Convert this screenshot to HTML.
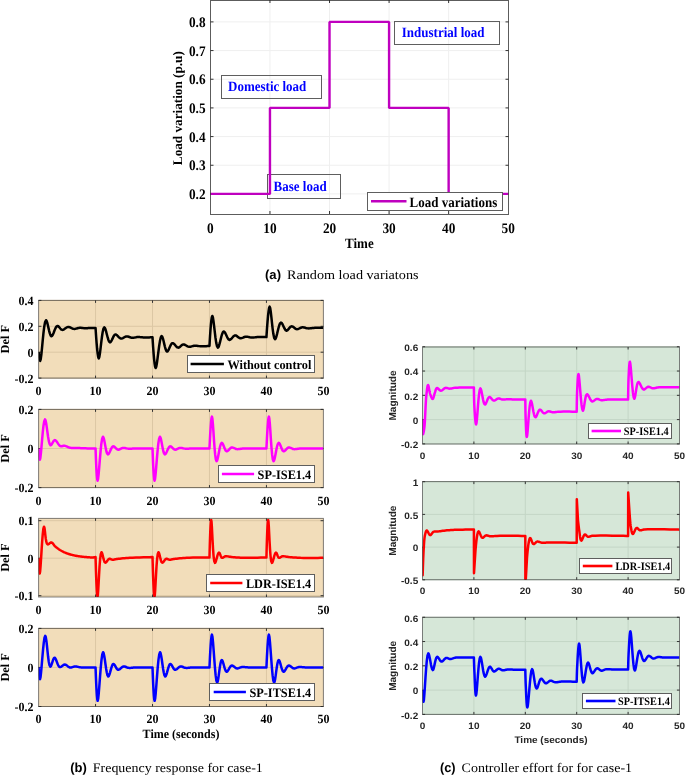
<!DOCTYPE html>
<html><head><meta charset="utf-8"><style>
html,body{margin:0;padding:0;background:#fff;width:685px;height:775px;overflow:hidden}
svg{display:block;will-change:transform;text-rendering:geometricPrecision}
</style></head><body>
<svg width="685" height="775" viewBox="0 0 685 775">
<rect width="685" height="775" fill="#fff"/>
<g>
<line x1="269.96" y1="0" x2="269.96" y2="214" stroke="#efefef" stroke-width="1"/>
<line x1="329.52" y1="0" x2="329.52" y2="214" stroke="#efefef" stroke-width="1"/>
<line x1="389.08" y1="0" x2="389.08" y2="214" stroke="#efefef" stroke-width="1"/>
<line x1="448.64" y1="0" x2="448.64" y2="214" stroke="#efefef" stroke-width="1"/>
<line x1="211" y1="193.92" x2="508" y2="193.92" stroke="#efefef" stroke-width="1"/>
<line x1="211" y1="165.25" x2="508" y2="165.25" stroke="#efefef" stroke-width="1"/>
<line x1="211" y1="136.58" x2="508" y2="136.58" stroke="#efefef" stroke-width="1"/>
<line x1="211" y1="107.91" x2="508" y2="107.91" stroke="#efefef" stroke-width="1"/>
<line x1="211" y1="79.24" x2="508" y2="79.24" stroke="#efefef" stroke-width="1"/>
<line x1="211" y1="50.57" x2="508" y2="50.57" stroke="#efefef" stroke-width="1"/>
<line x1="211" y1="21.9" x2="508" y2="21.9" stroke="#efefef" stroke-width="1"/>
<line x1="269.96" y1="214" x2="269.96" y2="211" stroke="#333" stroke-width="1"/>
<line x1="269.96" y1="0" x2="269.96" y2="3" stroke="#333" stroke-width="1"/>
<line x1="329.52" y1="214" x2="329.52" y2="211" stroke="#333" stroke-width="1"/>
<line x1="329.52" y1="0" x2="329.52" y2="3" stroke="#333" stroke-width="1"/>
<line x1="389.08" y1="214" x2="389.08" y2="211" stroke="#333" stroke-width="1"/>
<line x1="389.08" y1="0" x2="389.08" y2="3" stroke="#333" stroke-width="1"/>
<line x1="448.64" y1="214" x2="448.64" y2="211" stroke="#333" stroke-width="1"/>
<line x1="448.64" y1="0" x2="448.64" y2="3" stroke="#333" stroke-width="1"/>
<line x1="210.5" y1="193.92" x2="213.5" y2="193.92" stroke="#333" stroke-width="1"/>
<line x1="508.5" y1="193.92" x2="505.5" y2="193.92" stroke="#333" stroke-width="1"/>
<line x1="210.5" y1="165.25" x2="213.5" y2="165.25" stroke="#333" stroke-width="1"/>
<line x1="508.5" y1="165.25" x2="505.5" y2="165.25" stroke="#333" stroke-width="1"/>
<line x1="210.5" y1="136.58" x2="213.5" y2="136.58" stroke="#333" stroke-width="1"/>
<line x1="508.5" y1="136.58" x2="505.5" y2="136.58" stroke="#333" stroke-width="1"/>
<line x1="210.5" y1="107.91" x2="213.5" y2="107.91" stroke="#333" stroke-width="1"/>
<line x1="508.5" y1="107.91" x2="505.5" y2="107.91" stroke="#333" stroke-width="1"/>
<line x1="210.5" y1="79.24" x2="213.5" y2="79.24" stroke="#333" stroke-width="1"/>
<line x1="508.5" y1="79.24" x2="505.5" y2="79.24" stroke="#333" stroke-width="1"/>
<line x1="210.5" y1="50.57" x2="213.5" y2="50.57" stroke="#333" stroke-width="1"/>
<line x1="508.5" y1="50.57" x2="505.5" y2="50.57" stroke="#333" stroke-width="1"/>
<line x1="210.5" y1="21.9" x2="213.5" y2="21.9" stroke="#333" stroke-width="1"/>
<line x1="508.5" y1="21.9" x2="505.5" y2="21.9" stroke="#333" stroke-width="1"/>
<rect x="221.5" y="75.5" width="100" height="23" fill="none" stroke="#5e5e5e" stroke-width="1"/>
<rect x="394.5" y="21.5" width="105" height="23" fill="none" stroke="#5e5e5e" stroke-width="1"/>
<rect x="267.5" y="174.5" width="73" height="24" fill="none" stroke="#5e5e5e" stroke-width="1"/>
<path d="M210.4 193.92 L269.96 193.92 L269.96 107.91 L329.52 107.91 L329.52 21.9 L389.08 21.9 L389.08 107.91 L448.64 107.91 L448.64 193.92 L508.2 193.92" fill="none" stroke="#bf00bf" stroke-width="2.4" stroke-linejoin="bevel"/>
<rect x="210.5" y="0.5" width="298" height="214" fill="none" stroke="#262626" stroke-opacity="0.75" stroke-width="1"/>
<rect x="367.5" y="192.5" width="135" height="18" fill="#fff" stroke="#5e5e5e" stroke-width="1"/>
<line x1="371" y1="201.3" x2="406.5" y2="201.3" stroke="#bf00bf" stroke-width="2.6"/>
<text transform="translate(409.5,207.2) scale(1,1.1)" font-family="Liberation Serif" font-weight="bold" font-size="13" text-anchor="start" fill="#000" >Load variations</text>
<text transform="translate(228,91.1) scale(1,1.1)" font-family="Liberation Serif" font-weight="bold" font-size="13" text-anchor="start" fill="#0000ff" >Domestic load</text>
<text transform="translate(401.8,37.4) scale(1,1.1)" font-family="Liberation Serif" font-weight="bold" font-size="13" text-anchor="start" fill="#0000ff" >Industrial load</text>
<text transform="translate(273.6,191) scale(1,1.1)" font-family="Liberation Serif" font-weight="bold" font-size="13" text-anchor="start" fill="#0000ff" >Base load</text>
<text transform="translate(205.6,199.12) scale(1,1.1)" font-family="Liberation Serif" font-weight="bold" font-size="13.3" text-anchor="end" fill="#000" >0.2</text>
<text transform="translate(205.6,170.45) scale(1,1.1)" font-family="Liberation Serif" font-weight="bold" font-size="13.3" text-anchor="end" fill="#000" >0.3</text>
<text transform="translate(205.6,141.78) scale(1,1.1)" font-family="Liberation Serif" font-weight="bold" font-size="13.3" text-anchor="end" fill="#000" >0.4</text>
<text transform="translate(205.6,113.11) scale(1,1.1)" font-family="Liberation Serif" font-weight="bold" font-size="13.3" text-anchor="end" fill="#000" >0.5</text>
<text transform="translate(205.6,84.44) scale(1,1.1)" font-family="Liberation Serif" font-weight="bold" font-size="13.3" text-anchor="end" fill="#000" >0.6</text>
<text transform="translate(205.6,55.77) scale(1,1.1)" font-family="Liberation Serif" font-weight="bold" font-size="13.3" text-anchor="end" fill="#000" >0.7</text>
<text transform="translate(205.6,27.1) scale(1,1.1)" font-family="Liberation Serif" font-weight="bold" font-size="13.3" text-anchor="end" fill="#000" >0.8</text>
<text transform="translate(210.4,232.8) scale(1,1.1)" font-family="Liberation Serif" font-weight="bold" font-size="13.3" text-anchor="middle" fill="#000" >0</text>
<text transform="translate(269.96,232.8) scale(1,1.1)" font-family="Liberation Serif" font-weight="bold" font-size="13.3" text-anchor="middle" fill="#000" >10</text>
<text transform="translate(329.52,232.8) scale(1,1.1)" font-family="Liberation Serif" font-weight="bold" font-size="13.3" text-anchor="middle" fill="#000" >20</text>
<text transform="translate(389.08,232.8) scale(1,1.1)" font-family="Liberation Serif" font-weight="bold" font-size="13.3" text-anchor="middle" fill="#000" >30</text>
<text transform="translate(448.64,232.8) scale(1,1.1)" font-family="Liberation Serif" font-weight="bold" font-size="13.3" text-anchor="middle" fill="#000" >40</text>
<text transform="translate(508.2,232.8) scale(1,1.1)" font-family="Liberation Serif" font-weight="bold" font-size="13.3" text-anchor="middle" fill="#000" >50</text>
<text transform="translate(359.4,247.9) scale(1,1.1)" font-family="Liberation Serif" font-weight="bold" font-size="13" text-anchor="middle" fill="#000" >Time</text>
<text transform="translate(181.8,108.2) rotate(-90)" font-family="Liberation Serif" font-weight="bold" font-size="13.2" text-anchor="middle" fill="#000">Load variation (p.u)</text>
</g>
<text x="265" y="279.2" font-family="Liberation Sans" font-weight="bold" font-size="13" text-anchor="start" fill="#000" textLength="16" lengthAdjust="spacingAndGlyphs">(a)</text>
<text x="287" y="279.2" font-family="Liberation Serif" font-weight="normal" font-size="13" text-anchor="start" fill="#000" textLength="131.5" lengthAdjust="spacingAndGlyphs">Random load variatons</text>
<defs>
<clipPath id="cl0"><rect x="38.6" y="300.4" width="284.79999999999995" height="77.70000000000005"/></clipPath>
<clipPath id="cl1"><rect x="38.6" y="409.4" width="284.79999999999995" height="78.20000000000005"/></clipPath>
<clipPath id="cl2"><rect x="38.6" y="518.4" width="284.79999999999995" height="78.60000000000002"/></clipPath>
<clipPath id="cl3"><rect x="38.6" y="628.4" width="284.79999999999995" height="78.10000000000002"/></clipPath>
</defs>
<rect x="38.6" y="300.4" width="284.8" height="77.7" fill="#f2ddba"/>
<line x1="95.56" y1="300.4" x2="95.56" y2="378.1" stroke="#dcc7a4" stroke-width="1"/>
<line x1="152.52" y1="300.4" x2="152.52" y2="378.1" stroke="#dcc7a4" stroke-width="1"/>
<line x1="209.48" y1="300.4" x2="209.48" y2="378.1" stroke="#dcc7a4" stroke-width="1"/>
<line x1="266.44" y1="300.4" x2="266.44" y2="378.1" stroke="#dcc7a4" stroke-width="1"/>
<line x1="38.6" y1="300.4" x2="323.4" y2="300.4" stroke="#dcc7a4" stroke-width="1"/>
<line x1="38.6" y1="326.3" x2="323.4" y2="326.3" stroke="#dcc7a4" stroke-width="1"/>
<line x1="38.6" y1="352.2" x2="323.4" y2="352.2" stroke="#dcc7a4" stroke-width="1"/>
<line x1="38.6" y1="378.1" x2="323.4" y2="378.1" stroke="#dcc7a4" stroke-width="1"/>
<line x1="95.56" y1="378.1" x2="95.56" y2="375.6" stroke="#333" stroke-width="1"/>
<line x1="95.56" y1="300.4" x2="95.56" y2="302.9" stroke="#333" stroke-width="1"/>
<line x1="152.52" y1="378.1" x2="152.52" y2="375.6" stroke="#333" stroke-width="1"/>
<line x1="152.52" y1="300.4" x2="152.52" y2="302.9" stroke="#333" stroke-width="1"/>
<line x1="209.48" y1="378.1" x2="209.48" y2="375.6" stroke="#333" stroke-width="1"/>
<line x1="209.48" y1="300.4" x2="209.48" y2="302.9" stroke="#333" stroke-width="1"/>
<line x1="266.44" y1="378.1" x2="266.44" y2="375.6" stroke="#333" stroke-width="1"/>
<line x1="266.44" y1="300.4" x2="266.44" y2="302.9" stroke="#333" stroke-width="1"/>
<line x1="38.6" y1="300.4" x2="41.4" y2="300.4" stroke="#333" stroke-width="1"/>
<line x1="323.4" y1="300.4" x2="320.59999999999997" y2="300.4" stroke="#333" stroke-width="1"/>
<line x1="38.6" y1="326.3" x2="41.4" y2="326.3" stroke="#333" stroke-width="1"/>
<line x1="323.4" y1="326.3" x2="320.59999999999997" y2="326.3" stroke="#333" stroke-width="1"/>
<line x1="38.6" y1="352.2" x2="41.4" y2="352.2" stroke="#333" stroke-width="1"/>
<line x1="323.4" y1="352.2" x2="320.59999999999997" y2="352.2" stroke="#333" stroke-width="1"/>
<line x1="38.6" y1="378.1" x2="41.4" y2="378.1" stroke="#333" stroke-width="1"/>
<line x1="323.4" y1="378.1" x2="320.59999999999997" y2="378.1" stroke="#333" stroke-width="1"/>
<path clip-path="url(#cl0)" d="M38.6 352.2 L38.64 352.57 L38.76 353.56 L38.93 354.95 L39.15 356.54 L39.41 358.14 L39.67 359.53 L39.94 360.51 L40.19 360.88 L40.74 359.13 L41.35 354.54 L42 348.06 L42.7 340.62 L43.45 333.17 L44.25 326.66 L45.1 322.02 L46 320.21 L46.61 320.85 L47.22 322.63 L47.86 325.18 L48.52 328.11 L49.2 331.06 L49.91 333.66 L50.65 335.52 L51.42 336.27 L52.08 335.89 L52.77 334.78 L53.48 333.17 L54.21 331.31 L54.95 329.41 L55.71 327.72 L56.49 326.48 L57.28 325.91 L57.87 325.99 L58.46 326.39 L59.06 327 L59.67 327.74 L60.3 328.49 L60.93 329.18 L61.58 329.69 L62.24 329.93 L62.93 329.86 L63.64 329.56 L64.37 329.11 L65.11 328.56 L65.86 328 L66.61 327.5 L67.36 327.13 L68.11 326.95 L68.82 326.98 L69.55 327.17 L70.27 327.46 L71 327.81 L71.73 328.18 L72.46 328.51 L73.19 328.76 L73.92 328.89 L74.62 328.89 L75.33 328.8 L76.05 328.65 L76.76 328.46 L77.47 328.26 L78.18 328.08 L78.9 327.93 L79.61 327.85 L80.33 327.84 L81.05 327.87 L81.77 327.93 L82.5 328 L83.22 328.09 L83.93 328.16 L84.63 328.22 L85.31 328.24 L85.9 328.24 L86.47 328.21 L87.03 328.18 L87.59 328.13 L88.14 328.09 L88.7 328.04 L89.27 328.01 L89.86 327.98 L90.62 327.97 L91.51 327.96 L92.45 327.96 L93.38 327.96 L94.23 327.97 L94.92 327.98 L95.39 327.98 L95.56 327.98 L95.64 329.29 L95.86 332.73 L96.19 337.6 L96.62 343.18 L97.11 348.76 L97.65 353.64 L98.2 357.09 L98.75 358.42 L99.31 357.1 L99.9 353.61 L100.53 348.66 L101.19 342.98 L101.89 337.28 L102.64 332.29 L103.43 328.74 L104.27 327.34 L104.91 327.93 L105.56 329.58 L106.24 331.96 L106.94 334.7 L107.67 337.45 L108.41 339.88 L109.18 341.63 L109.97 342.36 L110.59 342.09 L111.22 341.25 L111.86 340.03 L112.51 338.61 L113.18 337.16 L113.87 335.87 L114.59 334.91 L115.33 334.46 L115.98 334.54 L116.66 334.95 L117.35 335.58 L118.06 336.33 L118.78 337.11 L119.51 337.81 L120.24 338.34 L120.96 338.6 L121.63 338.58 L122.3 338.37 L122.98 338.04 L123.66 337.64 L124.35 337.22 L125.04 336.83 L125.73 336.54 L126.43 336.4 L127.15 336.42 L127.88 336.55 L128.62 336.77 L129.36 337.03 L130.1 337.3 L130.84 337.54 L131.57 337.73 L132.3 337.83 L132.98 337.82 L133.65 337.75 L134.32 337.64 L134.99 337.5 L135.66 337.35 L136.33 337.21 L137.02 337.11 L137.71 337.05 L138.46 337.04 L139.22 337.07 L139.98 337.12 L140.75 337.19 L141.53 337.27 L142.33 337.34 L143.14 337.4 L143.98 337.44 L145.1 337.45 L146.42 337.44 L147.83 337.42 L149.23 337.4 L150.51 337.36 L151.55 337.34 L152.26 337.32 L152.52 337.31 L152.59 338.62 L152.8 342.1 L153.12 347 L153.53 352.63 L154.01 358.26 L154.54 363.18 L155.09 366.66 L155.65 368 L156.25 366.65 L156.91 363.05 L157.61 357.95 L158.35 352.09 L159.13 346.23 L159.94 341.09 L160.78 337.44 L161.63 336.01 L162.25 336.63 L162.88 338.35 L163.52 340.81 L164.17 343.64 L164.85 346.49 L165.55 349 L166.28 350.81 L167.04 351.55 L167.66 351.26 L168.29 350.37 L168.94 349.06 L169.6 347.54 L170.28 346 L170.98 344.62 L171.71 343.6 L172.46 343.13 L173.12 343.24 L173.81 343.71 L174.52 344.42 L175.25 345.26 L175.98 346.11 L176.71 346.88 L177.44 347.43 L178.15 347.67 L178.79 347.56 L179.43 347.22 L180.06 346.73 L180.69 346.14 L181.32 345.55 L181.96 345.02 L182.61 344.62 L183.28 344.43 L183.96 344.48 L184.66 344.7 L185.37 345.04 L186.08 345.46 L186.8 345.89 L187.53 346.29 L188.25 346.6 L188.97 346.76 L189.68 346.78 L190.38 346.7 L191.08 346.54 L191.79 346.35 L192.5 346.15 L193.22 345.95 L193.94 345.8 L194.67 345.72 L195.43 345.72 L196.19 345.76 L196.95 345.83 L197.72 345.92 L198.5 346.03 L199.29 346.12 L200.1 346.2 L200.94 346.24 L202.06 346.25 L203.38 346.23 L204.79 346.19 L206.19 346.14 L207.47 346.08 L208.51 346.03 L209.22 346 L209.48 345.98 L209.55 344.69 L209.73 341.3 L210.02 336.49 L210.39 330.98 L210.83 325.47 L211.31 320.66 L211.82 317.25 L212.33 315.94 L212.87 317.28 L213.46 320.85 L214.08 325.9 L214.75 331.71 L215.45 337.52 L216.21 342.62 L217.01 346.24 L217.85 347.67 L218.5 347.03 L219.17 345.24 L219.86 342.68 L220.58 339.73 L221.32 336.76 L222.09 334.15 L222.89 332.26 L223.72 331.48 L224.37 331.77 L225.05 332.66 L225.73 333.96 L226.43 335.49 L227.15 337.04 L227.89 338.42 L228.64 339.44 L229.42 339.9 L230.09 339.79 L230.78 339.33 L231.49 338.62 L232.21 337.79 L232.94 336.94 L233.67 336.18 L234.39 335.62 L235.11 335.37 L235.75 335.44 L236.38 335.72 L237.01 336.15 L237.64 336.65 L238.28 337.18 L238.92 337.66 L239.57 338.02 L240.24 338.21 L240.92 338.21 L241.62 338.08 L242.33 337.85 L243.05 337.56 L243.77 337.25 L244.49 336.98 L245.22 336.77 L245.93 336.66 L246.64 336.67 L247.35 336.75 L248.05 336.88 L248.76 337.05 L249.47 337.22 L250.18 337.38 L250.9 337.5 L251.63 337.57 L252.39 337.57 L253.15 337.53 L253.91 337.46 L254.68 337.37 L255.46 337.27 L256.25 337.18 L257.06 337.1 L257.9 337.05 L259.02 337.02 L260.34 337 L261.75 337 L263.15 337.01 L264.43 337.02 L265.47 337.03 L266.18 337.04 L266.44 337.05 L266.52 335.74 L266.74 332.3 L267.08 327.43 L267.52 321.85 L268.01 316.26 L268.55 311.39 L269.1 307.94 L269.63 306.62 L270.18 308 L270.75 311.67 L271.35 316.87 L271.98 322.84 L272.65 328.82 L273.37 334.06 L274.15 337.79 L274.98 339.25 L275.63 338.59 L276.31 336.74 L277.01 334.11 L277.74 331.06 L278.49 327.99 L279.27 325.29 L280.08 323.35 L280.91 322.54 L281.54 322.82 L282.19 323.69 L282.86 324.96 L283.54 326.45 L284.23 327.95 L284.93 329.29 L285.65 330.27 L286.38 330.7 L286.99 330.58 L287.61 330.13 L288.24 329.45 L288.88 328.65 L289.53 327.83 L290.18 327.09 L290.84 326.55 L291.5 326.3 L292.12 326.37 L292.75 326.65 L293.38 327.08 L294.01 327.59 L294.65 328.12 L295.3 328.6 L295.96 328.97 L296.63 329.15 L297.32 329.13 L298.01 328.96 L298.72 328.69 L299.44 328.36 L300.16 328.01 L300.88 327.7 L301.6 327.46 L302.32 327.34 L303.03 327.34 L303.73 327.43 L304.43 327.58 L305.13 327.77 L305.84 327.97 L306.56 328.15 L307.28 328.29 L308.02 328.37 L308.84 328.39 L309.66 328.35 L310.5 328.28 L311.35 328.19 L312.21 328.09 L313.08 327.99 L313.96 327.91 L314.86 327.85 L315.99 327.82 L317.32 327.81 L318.74 327.81 L320.14 327.82 L321.4 327.83 L322.44 327.84 L323.14 327.85 L323.4 327.85" fill="none" stroke="#000" stroke-width="2.5" stroke-linejoin="round"/>
<rect x="38.6" y="300.4" width="284.8" height="77.7" fill="none" stroke="#262626" stroke-opacity="0.58" stroke-width="1"/>
<rect x="187.5" y="355.5" width="127" height="17" fill="#fff" stroke="#5e5e5e" stroke-width="1"/>
<line x1="190.6" y1="364" x2="223.9" y2="364" stroke="#000" stroke-width="2.6"/>
<text transform="translate(227.4,368.9) scale(1,1.05)" font-family="Liberation Serif" font-weight="bold" font-size="12.3" text-anchor="start" fill="#000" >Without control</text>
<text transform="translate(33.4,304.8) scale(1,1.05)" font-family="Liberation Serif" font-weight="bold" font-size="12" text-anchor="end" fill="#000" >0.4</text>
<text transform="translate(33.4,330.7) scale(1,1.05)" font-family="Liberation Serif" font-weight="bold" font-size="12" text-anchor="end" fill="#000" >0.2</text>
<text transform="translate(33.4,356.6) scale(1,1.05)" font-family="Liberation Serif" font-weight="bold" font-size="12" text-anchor="end" fill="#000" >0</text>
<text transform="translate(33.4,382.5) scale(1,1.05)" font-family="Liberation Serif" font-weight="bold" font-size="12" text-anchor="end" fill="#000" >-0.2</text>
<text transform="translate(38.6,395) scale(1,1.05)" font-family="Liberation Serif" font-weight="bold" font-size="12" text-anchor="middle" fill="#000" >0</text>
<text transform="translate(95.56,395) scale(1,1.05)" font-family="Liberation Serif" font-weight="bold" font-size="12" text-anchor="middle" fill="#000" >10</text>
<text transform="translate(152.52,395) scale(1,1.05)" font-family="Liberation Serif" font-weight="bold" font-size="12" text-anchor="middle" fill="#000" >20</text>
<text transform="translate(209.48,395) scale(1,1.05)" font-family="Liberation Serif" font-weight="bold" font-size="12" text-anchor="middle" fill="#000" >30</text>
<text transform="translate(266.44,395) scale(1,1.05)" font-family="Liberation Serif" font-weight="bold" font-size="12" text-anchor="middle" fill="#000" >40</text>
<text transform="translate(323.4,395) scale(1,1.05)" font-family="Liberation Serif" font-weight="bold" font-size="12" text-anchor="middle" fill="#000" >50</text>
<text transform="translate(9,339.25) rotate(-90)" font-family="Liberation Serif" font-weight="bold" font-size="12.3" text-anchor="middle" fill="#000">Del F</text>
<rect x="38.6" y="409.4" width="284.8" height="78.2" fill="#f2ddba"/>
<line x1="95.56" y1="409.4" x2="95.56" y2="487.6" stroke="#dcc7a4" stroke-width="1"/>
<line x1="152.52" y1="409.4" x2="152.52" y2="487.6" stroke="#dcc7a4" stroke-width="1"/>
<line x1="209.48" y1="409.4" x2="209.48" y2="487.6" stroke="#dcc7a4" stroke-width="1"/>
<line x1="266.44" y1="409.4" x2="266.44" y2="487.6" stroke="#dcc7a4" stroke-width="1"/>
<line x1="38.6" y1="409.4" x2="323.4" y2="409.4" stroke="#dcc7a4" stroke-width="1"/>
<line x1="38.6" y1="448.5" x2="323.4" y2="448.5" stroke="#dcc7a4" stroke-width="1"/>
<line x1="38.6" y1="487.6" x2="323.4" y2="487.6" stroke="#dcc7a4" stroke-width="1"/>
<line x1="95.56" y1="487.6" x2="95.56" y2="485.1" stroke="#333" stroke-width="1"/>
<line x1="95.56" y1="409.4" x2="95.56" y2="411.9" stroke="#333" stroke-width="1"/>
<line x1="152.52" y1="487.6" x2="152.52" y2="485.1" stroke="#333" stroke-width="1"/>
<line x1="152.52" y1="409.4" x2="152.52" y2="411.9" stroke="#333" stroke-width="1"/>
<line x1="209.48" y1="487.6" x2="209.48" y2="485.1" stroke="#333" stroke-width="1"/>
<line x1="209.48" y1="409.4" x2="209.48" y2="411.9" stroke="#333" stroke-width="1"/>
<line x1="266.44" y1="487.6" x2="266.44" y2="485.1" stroke="#333" stroke-width="1"/>
<line x1="266.44" y1="409.4" x2="266.44" y2="411.9" stroke="#333" stroke-width="1"/>
<line x1="38.6" y1="409.4" x2="41.4" y2="409.4" stroke="#333" stroke-width="1"/>
<line x1="323.4" y1="409.4" x2="320.59999999999997" y2="409.4" stroke="#333" stroke-width="1"/>
<line x1="38.6" y1="448.5" x2="41.4" y2="448.5" stroke="#333" stroke-width="1"/>
<line x1="323.4" y1="448.5" x2="320.59999999999997" y2="448.5" stroke="#333" stroke-width="1"/>
<line x1="38.6" y1="487.6" x2="41.4" y2="487.6" stroke="#333" stroke-width="1"/>
<line x1="323.4" y1="487.6" x2="320.59999999999997" y2="487.6" stroke="#333" stroke-width="1"/>
<path clip-path="url(#cl1)" d="M38.6 448.5 L38.63 448.98 L38.72 450.24 L38.86 452.03 L39.03 454.07 L39.24 456.12 L39.46 457.9 L39.68 459.16 L39.91 459.64 L40.37 457.92 L40.89 453.36 L41.48 446.93 L42.11 439.54 L42.79 432.15 L43.49 425.7 L44.23 421.13 L44.98 419.37 L45.58 420.43 L46.17 423.28 L46.78 427.34 L47.41 432.01 L48.08 436.71 L48.8 440.87 L49.61 443.88 L50.5 445.18 L50.99 445.05 L51.5 444.52 L52.02 443.72 L52.56 442.77 L53.12 441.8 L53.68 440.95 L54.25 440.33 L54.83 440.09 L55.49 440.31 L56.17 440.92 L56.86 441.8 L57.56 442.84 L58.27 443.91 L58.98 444.89 L59.7 445.68 L60.42 446.15 L60.92 446.28 L61.42 446.28 L61.93 446.21 L62.43 446.08 L62.94 445.94 L63.46 445.82 L63.98 445.75 L64.52 445.76 L65.16 445.89 L65.82 446.11 L66.49 446.38 L67.16 446.69 L67.85 447 L68.54 447.29 L69.23 447.54 L69.93 447.72 L70.62 447.83 L71.3 447.89 L71.99 447.91 L72.68 447.92 L73.39 447.91 L74.11 447.9 L74.85 447.9 L75.62 447.91 L76.6 447.96 L77.61 448 L78.65 448.06 L79.71 448.11 L80.8 448.17 L81.91 448.22 L83.03 448.26 L84.17 448.3 L85.67 448.34 L87.43 448.38 L89.32 448.42 L91.19 448.44 L92.88 448.47 L94.28 448.49 L95.21 448.5 L95.56 448.5 L95.6 449.89 L95.73 453.54 L95.93 458.7 L96.18 464.62 L96.49 470.54 L96.84 475.7 L97.22 479.36 L97.61 480.76 L98.11 478.88 L98.66 473.92 L99.26 466.9 L99.91 458.84 L100.61 450.77 L101.35 443.72 L102.14 438.71 L102.96 436.77 L103.51 437.48 L104.06 439.43 L104.62 442.21 L105.21 445.41 L105.82 448.63 L106.47 451.47 L107.17 453.51 L107.92 454.37 L108.5 454.1 L109.09 453.26 L109.71 452.03 L110.35 450.59 L111.01 449.12 L111.69 447.8 L112.39 446.82 L113.1 446.35 L113.69 446.39 L114.28 446.71 L114.89 447.21 L115.52 447.82 L116.15 448.45 L116.78 449.02 L117.42 449.46 L118.06 449.67 L118.65 449.66 L119.24 449.5 L119.83 449.25 L120.43 448.93 L121.04 448.6 L121.65 448.29 L122.27 448.05 L122.9 447.91 L123.58 447.89 L124.27 447.94 L124.97 448.05 L125.68 448.19 L126.39 448.35 L127.12 448.5 L127.85 448.62 L128.6 448.7 L129.4 448.72 L130.19 448.72 L130.98 448.7 L131.78 448.66 L132.61 448.61 L133.49 448.56 L134.43 448.52 L135.43 448.5 L137.43 448.48 L139.96 448.47 L142.78 448.47 L145.63 448.48 L148.28 448.48 L150.47 448.49 L151.97 448.5 L152.52 448.5 L152.56 449.89 L152.69 453.54 L152.89 458.7 L153.14 464.62 L153.45 470.54 L153.8 475.7 L154.18 479.36 L154.57 480.76 L155.07 478.88 L155.62 473.92 L156.22 466.9 L156.87 458.84 L157.57 450.77 L158.31 443.72 L159.1 438.71 L159.92 436.77 L160.47 437.48 L161.02 439.43 L161.58 442.21 L162.17 445.41 L162.78 448.63 L163.43 451.47 L164.13 453.51 L164.88 454.37 L165.46 454.1 L166.05 453.26 L166.67 452.03 L167.31 450.59 L167.97 449.12 L168.65 447.8 L169.35 446.82 L170.06 446.35 L170.65 446.39 L171.24 446.71 L171.85 447.21 L172.48 447.82 L173.11 448.45 L173.74 449.02 L174.38 449.46 L175.02 449.67 L175.61 449.66 L176.2 449.5 L176.79 449.25 L177.39 448.93 L178 448.6 L178.61 448.29 L179.23 448.05 L179.86 447.91 L180.54 447.89 L181.23 447.94 L181.93 448.05 L182.64 448.19 L183.35 448.35 L184.08 448.5 L184.81 448.62 L185.56 448.7 L186.36 448.72 L187.15 448.72 L187.94 448.7 L188.74 448.66 L189.57 448.61 L190.45 448.56 L191.39 448.52 L192.39 448.5 L194.39 448.48 L196.92 448.47 L199.74 448.47 L202.59 448.48 L205.24 448.48 L207.43 448.49 L208.93 448.5 L209.48 448.5 L209.54 447.13 L209.72 443.52 L209.98 438.42 L210.31 432.57 L210.7 426.72 L211.11 421.62 L211.52 418.01 L211.93 416.63 L212.39 418.54 L212.87 423.56 L213.37 430.68 L213.9 438.84 L214.48 447.02 L215.12 454.16 L215.82 459.24 L216.6 461.21 L217.15 460.46 L217.72 458.42 L218.32 455.51 L218.94 452.16 L219.59 448.79 L220.27 445.83 L220.98 443.7 L221.73 442.83 L222.27 443.12 L222.83 444.01 L223.4 445.3 L223.98 446.81 L224.59 448.35 L225.22 449.73 L225.88 450.75 L226.57 451.24 L227.15 451.18 L227.76 450.84 L228.39 450.28 L229.03 449.61 L229.69 448.91 L230.35 448.27 L231.02 447.78 L231.69 447.52 L232.31 447.5 L232.93 447.62 L233.55 447.85 L234.18 448.13 L234.82 448.43 L235.47 448.72 L236.14 448.95 L236.82 449.09 L237.6 449.13 L238.36 449.11 L239.13 449.03 L239.92 448.92 L240.75 448.8 L241.64 448.68 L242.6 448.57 L243.66 448.5 L246.18 448.43 L249.48 448.4 L253.23 448.4 L257.06 448.41 L260.65 448.44 L263.63 448.47 L265.68 448.49 L266.44 448.5 L266.5 447.13 L266.68 443.52 L266.94 438.42 L267.27 432.57 L267.66 426.72 L268.07 421.62 L268.48 418.01 L268.89 416.63 L269.35 418.54 L269.83 423.56 L270.33 430.68 L270.86 438.84 L271.44 447.02 L272.08 454.16 L272.78 459.24 L273.56 461.21 L274.11 460.46 L274.68 458.42 L275.28 455.51 L275.9 452.16 L276.55 448.79 L277.23 445.83 L277.94 443.7 L278.69 442.83 L279.23 443.12 L279.79 444.01 L280.36 445.3 L280.94 446.81 L281.55 448.35 L282.18 449.73 L282.84 450.75 L283.53 451.24 L284.11 451.18 L284.72 450.84 L285.35 450.28 L285.99 449.61 L286.65 448.91 L287.31 448.27 L287.98 447.78 L288.65 447.52 L289.27 447.5 L289.89 447.62 L290.51 447.85 L291.14 448.13 L291.78 448.43 L292.43 448.72 L293.1 448.95 L293.78 449.09 L294.56 449.13 L295.32 449.11 L296.09 449.03 L296.88 448.92 L297.71 448.8 L298.6 448.68 L299.56 448.57 L300.62 448.5 L303.14 448.43 L306.44 448.4 L310.19 448.4 L314.02 448.41 L317.61 448.44 L320.59 448.47 L322.64 448.49 L323.4 448.5" fill="none" stroke="#ff00ff" stroke-width="2.5" stroke-linejoin="round"/>
<rect x="38.6" y="409.4" width="284.8" height="78.2" fill="none" stroke="#262626" stroke-opacity="0.58" stroke-width="1"/>
<rect x="218.5" y="465.5" width="96" height="17" fill="#fff" stroke="#5e5e5e" stroke-width="1"/>
<line x1="221.9" y1="474" x2="254.1" y2="474" stroke="#ff00ff" stroke-width="2.6"/>
<text transform="translate(257.6,478.9) scale(1,1.05)" font-family="Liberation Serif" font-weight="bold" font-size="12.3" text-anchor="start" fill="#000" >SP-ISE1.4</text>
<text transform="translate(33.4,413.8) scale(1,1.05)" font-family="Liberation Serif" font-weight="bold" font-size="12" text-anchor="end" fill="#000" >0.2</text>
<text transform="translate(33.4,452.9) scale(1,1.05)" font-family="Liberation Serif" font-weight="bold" font-size="12" text-anchor="end" fill="#000" >0</text>
<text transform="translate(33.4,492) scale(1,1.05)" font-family="Liberation Serif" font-weight="bold" font-size="12" text-anchor="end" fill="#000" >-0.2</text>
<text transform="translate(38.6,504.5) scale(1,1.05)" font-family="Liberation Serif" font-weight="bold" font-size="12" text-anchor="middle" fill="#000" >0</text>
<text transform="translate(95.56,504.5) scale(1,1.05)" font-family="Liberation Serif" font-weight="bold" font-size="12" text-anchor="middle" fill="#000" >10</text>
<text transform="translate(152.52,504.5) scale(1,1.05)" font-family="Liberation Serif" font-weight="bold" font-size="12" text-anchor="middle" fill="#000" >20</text>
<text transform="translate(209.48,504.5) scale(1,1.05)" font-family="Liberation Serif" font-weight="bold" font-size="12" text-anchor="middle" fill="#000" >30</text>
<text transform="translate(266.44,504.5) scale(1,1.05)" font-family="Liberation Serif" font-weight="bold" font-size="12" text-anchor="middle" fill="#000" >40</text>
<text transform="translate(323.4,504.5) scale(1,1.05)" font-family="Liberation Serif" font-weight="bold" font-size="12" text-anchor="middle" fill="#000" >50</text>
<text transform="translate(9,448.5) rotate(-90)" font-family="Liberation Serif" font-weight="bold" font-size="12.3" text-anchor="middle" fill="#000">Del F</text>
<rect x="38.6" y="518.4" width="284.8" height="78.6" fill="#f2ddba"/>
<line x1="95.56" y1="518.4" x2="95.56" y2="597.0" stroke="#dcc7a4" stroke-width="1"/>
<line x1="152.52" y1="518.4" x2="152.52" y2="597.0" stroke="#dcc7a4" stroke-width="1"/>
<line x1="209.48" y1="518.4" x2="209.48" y2="597.0" stroke="#dcc7a4" stroke-width="1"/>
<line x1="266.44" y1="518.4" x2="266.44" y2="597.0" stroke="#dcc7a4" stroke-width="1"/>
<line x1="38.6" y1="520.7" x2="323.4" y2="520.7" stroke="#dcc7a4" stroke-width="1"/>
<line x1="38.6" y1="558.2" x2="323.4" y2="558.2" stroke="#dcc7a4" stroke-width="1"/>
<line x1="38.6" y1="595.7" x2="323.4" y2="595.7" stroke="#dcc7a4" stroke-width="1"/>
<line x1="95.56" y1="597.0" x2="95.56" y2="594.5" stroke="#333" stroke-width="1"/>
<line x1="95.56" y1="518.4" x2="95.56" y2="520.9" stroke="#333" stroke-width="1"/>
<line x1="152.52" y1="597.0" x2="152.52" y2="594.5" stroke="#333" stroke-width="1"/>
<line x1="152.52" y1="518.4" x2="152.52" y2="520.9" stroke="#333" stroke-width="1"/>
<line x1="209.48" y1="597.0" x2="209.48" y2="594.5" stroke="#333" stroke-width="1"/>
<line x1="209.48" y1="518.4" x2="209.48" y2="520.9" stroke="#333" stroke-width="1"/>
<line x1="266.44" y1="597.0" x2="266.44" y2="594.5" stroke="#333" stroke-width="1"/>
<line x1="266.44" y1="518.4" x2="266.44" y2="520.9" stroke="#333" stroke-width="1"/>
<line x1="38.6" y1="520.7" x2="41.4" y2="520.7" stroke="#333" stroke-width="1"/>
<line x1="323.4" y1="520.7" x2="320.59999999999997" y2="520.7" stroke="#333" stroke-width="1"/>
<line x1="38.6" y1="558.2" x2="41.4" y2="558.2" stroke="#333" stroke-width="1"/>
<line x1="323.4" y1="558.2" x2="320.59999999999997" y2="558.2" stroke="#333" stroke-width="1"/>
<line x1="38.6" y1="595.7" x2="41.4" y2="595.7" stroke="#333" stroke-width="1"/>
<line x1="323.4" y1="595.7" x2="320.59999999999997" y2="595.7" stroke="#333" stroke-width="1"/>
<path clip-path="url(#cl2)" d="M38.6 558.2 L38.63 558.86 L38.7 560.6 L38.82 563.06 L38.97 565.89 L39.14 568.71 L39.33 571.17 L39.54 572.91 L39.74 573.58 L40.12 571.57 L40.56 566.27 L41.06 558.77 L41.59 550.17 L42.16 541.57 L42.76 534.06 L43.38 528.74 L44.01 526.7 L44.37 527.4 L44.69 529.28 L45 531.96 L45.33 535.08 L45.71 538.25 L46.17 541.1 L46.75 543.25 L47.49 544.33 L47.92 544.39 L48.39 544.23 L48.9 543.91 L49.43 543.51 L49.97 543.09 L50.49 542.72 L51 542.49 L51.47 542.45 L51.94 542.63 L52.38 542.96 L52.81 543.41 L53.22 543.94 L53.63 544.51 L54.04 545.07 L54.46 545.61 L54.89 546.07 L55.31 546.45 L55.73 546.82 L56.15 547.18 L56.58 547.53 L57.01 547.87 L57.44 548.21 L57.87 548.53 L58.31 548.85 L58.73 549.15 L59.15 549.44 L59.57 549.71 L60 549.99 L60.43 550.25 L60.86 550.51 L61.29 550.76 L61.73 551 L62.15 551.23 L62.57 551.45 L63 551.67 L63.42 551.87 L63.85 552.08 L64.28 552.27 L64.71 552.47 L65.14 552.65 L65.57 552.83 L65.99 553 L66.42 553.17 L66.85 553.33 L67.27 553.48 L67.7 553.64 L68.13 553.78 L68.56 553.93 L68.99 554.06 L69.41 554.2 L69.84 554.32 L70.27 554.45 L70.69 554.57 L71.12 554.68 L71.55 554.8 L71.98 554.91 L72.4 555.01 L72.83 555.12 L73.26 555.21 L73.68 555.31 L74.11 555.4 L74.54 555.49 L74.97 555.58 L75.4 555.66 L75.82 555.75 L76.25 555.82 L76.68 555.9 L77.1 555.97 L77.53 556.04 L77.96 556.11 L78.39 556.18 L78.81 556.25 L79.24 556.31 L79.67 556.37 L80.09 556.43 L80.52 556.48 L80.95 556.54 L81.38 556.59 L81.8 556.64 L82.23 556.69 L82.66 556.74 L83.09 556.79 L83.51 556.84 L83.94 556.88 L84.37 556.92 L84.79 556.96 L85.22 557 L85.65 557.04 L86.08 557.08 L86.5 557.11 L86.93 557.15 L87.36 557.18 L87.78 557.21 L88.21 557.25 L88.64 557.28 L89.07 557.31 L89.49 557.34 L89.93 557.38 L90.36 557.42 L90.79 557.46 L91.22 557.49 L91.64 557.51 L92.07 557.52 L92.48 557.51 L92.92 557.48 L93.41 557.43 L93.92 557.35 L94.42 557.28 L94.86 557.2 L95.23 557.14 L95.47 557.09 L95.56 557.08 L95.6 558.78 L95.73 563.28 L95.92 569.65 L96.18 576.94 L96.47 584.24 L96.8 590.61 L97.14 595.11 L97.5 596.83 L97.87 594.92 L98.24 589.9 L98.64 582.79 L99.07 574.62 L99.55 566.44 L100.11 559.29 L100.75 554.2 L101.48 552.2 L101.88 552.6 L102.29 553.73 L102.71 555.36 L103.15 557.26 L103.62 559.18 L104.12 560.88 L104.66 562.14 L105.24 562.7 L105.69 562.62 L106.16 562.25 L106.65 561.67 L107.15 560.98 L107.67 560.26 L108.19 559.59 L108.71 559.08 L109.23 558.8 L109.63 558.76 L110.02 558.82 L110.41 558.95 L110.8 559.12 L111.21 559.31 L111.62 559.49 L112.04 559.63 L112.48 559.7 L113.01 559.7 L113.54 559.65 L114.08 559.56 L114.64 559.45 L115.22 559.32 L115.84 559.18 L116.5 559.06 L117.2 558.95 L118.46 558.8 L119.83 558.65 L121.3 558.5 L122.86 558.35 L124.5 558.21 L126.2 558.07 L127.95 557.94 L129.74 557.83 L132.57 557.68 L136.02 557.54 L139.78 557.41 L143.55 557.3 L147.01 557.21 L149.87 557.14 L151.81 557.09 L152.52 557.08 L152.56 558.78 L152.69 563.28 L152.88 569.65 L153.14 576.94 L153.43 584.24 L153.76 590.61 L154.1 595.11 L154.46 596.83 L154.83 594.92 L155.2 589.9 L155.6 582.79 L156.03 574.62 L156.51 566.44 L157.07 559.29 L157.71 554.2 L158.44 552.2 L158.84 552.6 L159.25 553.73 L159.67 555.36 L160.11 557.26 L160.58 559.18 L161.08 560.88 L161.62 562.14 L162.2 562.7 L162.65 562.62 L163.12 562.25 L163.61 561.67 L164.11 560.98 L164.63 560.26 L165.15 559.59 L165.67 559.08 L166.19 558.8 L166.59 558.76 L166.98 558.82 L167.37 558.95 L167.76 559.12 L168.17 559.31 L168.58 559.49 L169 559.63 L169.44 559.7 L169.97 559.7 L170.5 559.65 L171.04 559.56 L171.6 559.45 L172.18 559.32 L172.8 559.18 L173.46 559.06 L174.16 558.95 L175.42 558.8 L176.79 558.64 L178.26 558.49 L179.82 558.34 L181.46 558.19 L183.16 558.05 L184.91 557.93 L186.7 557.83 L189.53 557.71 L192.98 557.62 L196.74 557.56 L200.51 557.51 L203.97 557.48 L206.83 557.46 L208.77 557.45 L209.48 557.45 L209.52 555.84 L209.63 551.59 L209.79 545.59 L210.01 538.71 L210.27 531.82 L210.56 525.82 L210.87 521.57 L211.19 519.95 L211.53 521.78 L211.86 526.61 L212.21 533.45 L212.6 541.3 L213.05 549.16 L213.58 556.05 L214.2 560.95 L214.95 562.89 L215.38 562.49 L215.84 561.36 L216.33 559.72 L216.84 557.83 L217.37 555.93 L217.89 554.25 L218.42 553.06 L218.94 552.58 L219.31 552.76 L219.66 553.3 L220.02 554.09 L220.38 555.02 L220.75 555.96 L221.14 556.82 L221.56 557.48 L222.01 557.83 L222.39 557.86 L222.77 557.76 L223.17 557.55 L223.58 557.27 L224.01 556.98 L224.46 556.69 L224.93 556.46 L225.43 556.33 L226.15 556.27 L226.92 556.29 L227.73 556.38 L228.58 556.51 L229.46 556.66 L230.37 556.82 L231.31 556.97 L232.26 557.08 L233.52 557.19 L234.82 557.3 L236.15 557.41 L237.53 557.52 L238.97 557.62 L240.46 557.7 L242.02 557.77 L243.66 557.83 L246.44 557.85 L249.87 557.83 L253.63 557.77 L257.41 557.7 L260.89 557.61 L263.76 557.53 L265.72 557.47 L266.44 557.45 L266.48 555.84 L266.59 551.59 L266.75 545.59 L266.97 538.71 L267.23 531.82 L267.52 525.82 L267.83 521.57 L268.15 519.95 L268.49 521.78 L268.82 526.61 L269.17 533.45 L269.56 541.3 L270.01 549.16 L270.54 556.05 L271.16 560.95 L271.91 562.89 L272.34 562.49 L272.8 561.36 L273.29 559.72 L273.8 557.83 L274.33 555.93 L274.85 554.25 L275.38 553.06 L275.9 552.58 L276.27 552.76 L276.62 553.3 L276.98 554.09 L277.34 555.02 L277.71 555.96 L278.1 556.82 L278.52 557.48 L278.97 557.83 L279.35 557.86 L279.73 557.76 L280.13 557.55 L280.54 557.27 L280.97 556.98 L281.42 556.69 L281.89 556.46 L282.39 556.33 L283.11 556.27 L283.88 556.29 L284.69 556.38 L285.54 556.51 L286.42 556.66 L287.33 556.82 L288.27 556.97 L289.22 557.08 L290.48 557.18 L291.78 557.29 L293.11 557.4 L294.49 557.5 L295.93 557.6 L297.42 557.69 L298.98 557.76 L300.62 557.83 L303.4 557.88 L306.83 557.91 L310.59 557.92 L314.37 557.9 L317.85 557.88 L320.72 557.85 L322.68 557.83 L323.4 557.83" fill="none" stroke="#ff0000" stroke-width="2.5" stroke-linejoin="round"/>
<rect x="38.6" y="518.4" width="284.8" height="78.6" fill="none" stroke="#262626" stroke-opacity="0.58" stroke-width="1"/>
<rect x="206.5" y="574.5" width="108" height="17" fill="#fff" stroke="#5e5e5e" stroke-width="1"/>
<line x1="210.2" y1="583" x2="242.4" y2="583" stroke="#ff0000" stroke-width="2.6"/>
<text transform="translate(245.9,587.9) scale(1,1.05)" font-family="Liberation Serif" font-weight="bold" font-size="12.3" text-anchor="start" fill="#000" >LDR-ISE1.4</text>
<text transform="translate(33.4,525.1) scale(1,1.05)" font-family="Liberation Serif" font-weight="bold" font-size="12" text-anchor="end" fill="#000" >0.1</text>
<text transform="translate(33.4,562.6) scale(1,1.05)" font-family="Liberation Serif" font-weight="bold" font-size="12" text-anchor="end" fill="#000" >0</text>
<text transform="translate(33.4,600.1) scale(1,1.05)" font-family="Liberation Serif" font-weight="bold" font-size="12" text-anchor="end" fill="#000" >-0.1</text>
<text transform="translate(38.6,613.9) scale(1,1.05)" font-family="Liberation Serif" font-weight="bold" font-size="12" text-anchor="middle" fill="#000" >0</text>
<text transform="translate(95.56,613.9) scale(1,1.05)" font-family="Liberation Serif" font-weight="bold" font-size="12" text-anchor="middle" fill="#000" >10</text>
<text transform="translate(152.52,613.9) scale(1,1.05)" font-family="Liberation Serif" font-weight="bold" font-size="12" text-anchor="middle" fill="#000" >20</text>
<text transform="translate(209.48,613.9) scale(1,1.05)" font-family="Liberation Serif" font-weight="bold" font-size="12" text-anchor="middle" fill="#000" >30</text>
<text transform="translate(266.44,613.9) scale(1,1.05)" font-family="Liberation Serif" font-weight="bold" font-size="12" text-anchor="middle" fill="#000" >40</text>
<text transform="translate(323.4,613.9) scale(1,1.05)" font-family="Liberation Serif" font-weight="bold" font-size="12" text-anchor="middle" fill="#000" >50</text>
<text transform="translate(9,557.7) rotate(-90)" font-family="Liberation Serif" font-weight="bold" font-size="12.3" text-anchor="middle" fill="#000">Del F</text>
<rect x="38.6" y="628.4" width="284.8" height="78.1" fill="#f2ddba"/>
<line x1="95.56" y1="628.4" x2="95.56" y2="706.5" stroke="#dcc7a4" stroke-width="1"/>
<line x1="152.52" y1="628.4" x2="152.52" y2="706.5" stroke="#dcc7a4" stroke-width="1"/>
<line x1="209.48" y1="628.4" x2="209.48" y2="706.5" stroke="#dcc7a4" stroke-width="1"/>
<line x1="266.44" y1="628.4" x2="266.44" y2="706.5" stroke="#dcc7a4" stroke-width="1"/>
<line x1="38.6" y1="628.4" x2="323.4" y2="628.4" stroke="#dcc7a4" stroke-width="1"/>
<line x1="38.6" y1="667.45" x2="323.4" y2="667.45" stroke="#dcc7a4" stroke-width="1"/>
<line x1="38.6" y1="706.5" x2="323.4" y2="706.5" stroke="#dcc7a4" stroke-width="1"/>
<line x1="95.56" y1="706.5" x2="95.56" y2="704.0" stroke="#333" stroke-width="1"/>
<line x1="95.56" y1="628.4" x2="95.56" y2="630.9" stroke="#333" stroke-width="1"/>
<line x1="152.52" y1="706.5" x2="152.52" y2="704.0" stroke="#333" stroke-width="1"/>
<line x1="152.52" y1="628.4" x2="152.52" y2="630.9" stroke="#333" stroke-width="1"/>
<line x1="209.48" y1="706.5" x2="209.48" y2="704.0" stroke="#333" stroke-width="1"/>
<line x1="209.48" y1="628.4" x2="209.48" y2="630.9" stroke="#333" stroke-width="1"/>
<line x1="266.44" y1="706.5" x2="266.44" y2="704.0" stroke="#333" stroke-width="1"/>
<line x1="266.44" y1="628.4" x2="266.44" y2="630.9" stroke="#333" stroke-width="1"/>
<line x1="38.6" y1="628.4" x2="41.4" y2="628.4" stroke="#333" stroke-width="1"/>
<line x1="323.4" y1="628.4" x2="320.59999999999997" y2="628.4" stroke="#333" stroke-width="1"/>
<line x1="38.6" y1="667.45" x2="41.4" y2="667.45" stroke="#333" stroke-width="1"/>
<line x1="323.4" y1="667.45" x2="320.59999999999997" y2="667.45" stroke="#333" stroke-width="1"/>
<line x1="38.6" y1="706.5" x2="41.4" y2="706.5" stroke="#333" stroke-width="1"/>
<line x1="323.4" y1="706.5" x2="320.59999999999997" y2="706.5" stroke="#333" stroke-width="1"/>
<path clip-path="url(#cl3)" d="M38.6 667.45 L38.64 667.95 L38.74 669.28 L38.89 671.16 L39.08 673.31 L39.3 675.46 L39.54 677.33 L39.78 678.66 L40.02 679.16 L40.51 677.3 L41.07 672.4 L41.69 665.46 L42.36 657.51 L43.06 649.55 L43.77 642.61 L44.5 637.69 L45.21 635.82 L45.79 637.12 L46.36 640.58 L46.92 645.48 L47.5 651.11 L48.11 656.76 L48.77 661.71 L49.49 665.25 L50.28 666.67 L50.76 666.34 L51.26 665.35 L51.78 663.92 L52.31 662.26 L52.85 660.6 L53.41 659.13 L53.98 658.09 L54.55 657.69 L55.14 658.05 L55.73 659.04 L56.32 660.46 L56.93 662.11 L57.56 663.8 L58.22 665.31 L58.93 666.47 L59.68 667.06 L60.26 667.09 L60.88 666.86 L61.52 666.45 L62.17 665.95 L62.83 665.43 L63.5 664.96 L64.16 664.64 L64.8 664.52 L65.44 664.65 L66.08 664.96 L66.72 665.39 L67.35 665.89 L67.98 666.41 L68.62 666.88 L69.27 667.24 L69.93 667.45 L70.55 667.49 L71.18 667.42 L71.81 667.27 L72.44 667.08 L73.08 666.87 L73.73 666.68 L74.39 666.54 L75.05 666.47 L75.79 666.5 L76.51 666.58 L77.24 666.72 L77.98 666.88 L78.75 667.05 L79.56 667.21 L80.41 667.35 L81.32 667.45 L83.02 667.53 L85.14 667.57 L87.49 667.58 L89.86 667.56 L92.05 667.53 L93.87 667.49 L95.1 667.46 L95.56 667.45 L95.61 668.88 L95.74 672.66 L95.95 678.01 L96.22 684.14 L96.54 690.26 L96.89 695.61 L97.27 699.4 L97.67 700.84 L98.18 698.76 L98.75 693.27 L99.37 685.5 L100.04 676.58 L100.75 667.66 L101.5 659.87 L102.28 654.34 L103.08 652.22 L103.66 653.23 L104.25 655.95 L104.86 659.8 L105.48 664.23 L106.13 668.67 L106.8 672.56 L107.51 675.34 L108.26 676.43 L108.84 675.94 L109.42 674.57 L110.02 672.61 L110.64 670.34 L111.28 668.05 L111.94 666.03 L112.62 664.56 L113.33 663.94 L113.88 664.11 L114.43 664.72 L114.99 665.61 L115.57 666.67 L116.16 667.75 L116.77 668.72 L117.4 669.44 L118.06 669.79 L118.69 669.74 L119.34 669.43 L120 668.94 L120.69 668.34 L121.38 667.72 L122.08 667.15 L122.78 666.7 L123.47 666.47 L124.1 666.45 L124.72 666.56 L125.34 666.75 L125.97 666.99 L126.61 667.26 L127.25 667.51 L127.91 667.72 L128.6 667.84 L129.38 667.89 L130.16 667.88 L130.95 667.83 L131.75 667.76 L132.6 667.67 L133.48 667.57 L134.42 667.5 L135.43 667.45 L137.43 667.41 L139.96 667.4 L142.78 667.39 L145.63 667.4 L148.28 667.42 L150.47 667.43 L151.97 667.44 L152.52 667.45 L152.57 668.88 L152.7 672.66 L152.91 678.01 L153.18 684.14 L153.5 690.26 L153.85 695.61 L154.23 699.4 L154.63 700.84 L155.14 698.76 L155.71 693.27 L156.33 685.5 L157 676.58 L157.71 667.66 L158.46 659.87 L159.24 654.34 L160.04 652.22 L160.62 653.23 L161.21 655.95 L161.82 659.8 L162.44 664.23 L163.09 668.67 L163.76 672.56 L164.47 675.34 L165.22 676.43 L165.8 675.94 L166.38 674.57 L166.98 672.61 L167.6 670.34 L168.24 668.05 L168.9 666.03 L169.58 664.56 L170.29 663.94 L170.84 664.11 L171.39 664.72 L171.95 665.61 L172.53 666.67 L173.12 667.75 L173.73 668.72 L174.36 669.44 L175.02 669.79 L175.65 669.74 L176.3 669.43 L176.96 668.94 L177.65 668.34 L178.34 667.72 L179.04 667.15 L179.74 666.7 L180.43 666.47 L181.06 666.45 L181.68 666.56 L182.3 666.75 L182.93 666.99 L183.57 667.26 L184.21 667.51 L184.87 667.72 L185.56 667.84 L186.34 667.89 L187.12 667.88 L187.91 667.83 L188.71 667.76 L189.56 667.67 L190.44 667.57 L191.38 667.5 L192.39 667.45 L194.39 667.41 L196.92 667.4 L199.74 667.39 L202.59 667.4 L205.24 667.42 L207.43 667.43 L208.93 667.44 L209.48 667.45 L209.54 666.04 L209.71 662.33 L209.97 657.08 L210.3 651.06 L210.67 645.03 L211.09 639.78 L211.51 636.06 L211.93 634.65 L212.45 636.7 L213.01 642.13 L213.61 649.81 L214.25 658.62 L214.93 667.43 L215.63 675.13 L216.36 680.59 L217.11 682.68 L217.64 681.73 L218.17 679.19 L218.71 675.59 L219.26 671.45 L219.84 667.29 L220.45 663.65 L221.09 661.06 L221.78 660.03 L222.31 660.48 L222.86 661.77 L223.42 663.6 L223.99 665.73 L224.59 667.88 L225.22 669.78 L225.88 671.15 L226.57 671.75 L227.15 671.56 L227.75 670.91 L228.36 669.96 L229 668.84 L229.65 667.69 L230.32 666.65 L231 665.87 L231.69 665.5 L232.3 665.53 L232.92 665.8 L233.55 666.23 L234.2 666.77 L234.85 667.32 L235.5 667.83 L236.16 668.22 L236.82 668.43 L237.44 668.44 L238.06 668.33 L238.68 668.14 L239.3 667.9 L239.94 667.64 L240.59 667.39 L241.25 667.18 L241.95 667.06 L242.78 667.01 L243.62 667.01 L244.48 667.06 L245.37 667.14 L246.29 667.23 L247.25 667.32 L248.27 667.4 L249.35 667.45 L251.38 667.48 L253.93 667.5 L256.75 667.5 L259.59 667.49 L262.22 667.48 L264.41 667.47 L265.89 667.45 L266.44 667.45 L266.5 666.04 L266.67 662.33 L266.93 657.08 L267.26 651.06 L267.63 645.03 L268.05 639.78 L268.47 636.06 L268.89 634.65 L269.41 636.7 L269.97 642.13 L270.57 649.81 L271.21 658.62 L271.89 667.43 L272.59 675.13 L273.32 680.59 L274.07 682.68 L274.6 681.73 L275.13 679.19 L275.67 675.59 L276.22 671.45 L276.8 667.29 L277.41 663.65 L278.05 661.06 L278.74 660.03 L279.27 660.48 L279.82 661.77 L280.38 663.6 L280.95 665.73 L281.55 667.88 L282.18 669.78 L282.84 671.15 L283.53 671.75 L284.11 671.56 L284.71 670.91 L285.32 669.96 L285.96 668.84 L286.61 667.69 L287.28 666.65 L287.96 665.87 L288.65 665.5 L289.26 665.53 L289.88 665.8 L290.51 666.23 L291.16 666.77 L291.81 667.32 L292.46 667.83 L293.12 668.22 L293.78 668.43 L294.4 668.44 L295.02 668.33 L295.64 668.14 L296.26 667.9 L296.9 667.64 L297.55 667.39 L298.21 667.18 L298.91 667.06 L299.74 667.01 L300.58 667.01 L301.44 667.06 L302.33 667.14 L303.25 667.23 L304.21 667.32 L305.23 667.4 L306.31 667.45 L308.34 667.48 L310.89 667.5 L313.71 667.5 L316.55 667.49 L319.18 667.48 L321.37 667.47 L322.85 667.45 L323.4 667.45" fill="none" stroke="#0000ff" stroke-width="2.5" stroke-linejoin="round"/>
<rect x="38.6" y="628.4" width="284.8" height="78.1" fill="none" stroke="#262626" stroke-opacity="0.58" stroke-width="1"/>
<rect x="209.5" y="683.5" width="105" height="17" fill="#fff" stroke="#5e5e5e" stroke-width="1"/>
<line x1="213.7" y1="692" x2="245.9" y2="692" stroke="#0000ff" stroke-width="2.6"/>
<text transform="translate(249.4,696.9) scale(1,1.05)" font-family="Liberation Serif" font-weight="bold" font-size="12.3" text-anchor="start" fill="#000" >SP-ITSE1.4</text>
<text transform="translate(33.4,632.8) scale(1,1.05)" font-family="Liberation Serif" font-weight="bold" font-size="12" text-anchor="end" fill="#000" >0.2</text>
<text transform="translate(33.4,671.85) scale(1,1.05)" font-family="Liberation Serif" font-weight="bold" font-size="12" text-anchor="end" fill="#000" >0</text>
<text transform="translate(33.4,710.9) scale(1,1.05)" font-family="Liberation Serif" font-weight="bold" font-size="12" text-anchor="end" fill="#000" >-0.2</text>
<text transform="translate(38.6,723.4) scale(1,1.05)" font-family="Liberation Serif" font-weight="bold" font-size="12" text-anchor="middle" fill="#000" >0</text>
<text transform="translate(95.56,723.4) scale(1,1.05)" font-family="Liberation Serif" font-weight="bold" font-size="12" text-anchor="middle" fill="#000" >10</text>
<text transform="translate(152.52,723.4) scale(1,1.05)" font-family="Liberation Serif" font-weight="bold" font-size="12" text-anchor="middle" fill="#000" >20</text>
<text transform="translate(209.48,723.4) scale(1,1.05)" font-family="Liberation Serif" font-weight="bold" font-size="12" text-anchor="middle" fill="#000" >30</text>
<text transform="translate(266.44,723.4) scale(1,1.05)" font-family="Liberation Serif" font-weight="bold" font-size="12" text-anchor="middle" fill="#000" >40</text>
<text transform="translate(323.4,723.4) scale(1,1.05)" font-family="Liberation Serif" font-weight="bold" font-size="12" text-anchor="middle" fill="#000" >50</text>
<text transform="translate(9,667.45) rotate(-90)" font-family="Liberation Serif" font-weight="bold" font-size="12.3" text-anchor="middle" fill="#000">Del F</text>
<text transform="translate(181,738.2) scale(1,1.05)" font-family="Liberation Serif" font-weight="bold" font-size="12" text-anchor="middle" fill="#000" >Time (seconds)</text>
<defs>
<clipPath id="cr0"><rect x="422.5" y="347.0" width="257.0" height="97"/></clipPath>
<clipPath id="cr1"><rect x="422.5" y="481.6" width="257.0" height="98.1"/></clipPath>
<clipPath id="cr2"><rect x="422.5" y="617.3" width="257.0" height="97.1"/></clipPath>
</defs>
<rect x="422.5" y="347.0" width="257" height="97" fill="#d6e7d8"/>
<line x1="473.9" y1="347.0" x2="473.9" y2="444.0" stroke="#c4d6c6" stroke-width="1"/>
<line x1="525.3" y1="347.0" x2="525.3" y2="444.0" stroke="#c4d6c6" stroke-width="1"/>
<line x1="576.7" y1="347.0" x2="576.7" y2="444.0" stroke="#c4d6c6" stroke-width="1"/>
<line x1="628.1" y1="347.0" x2="628.1" y2="444.0" stroke="#c4d6c6" stroke-width="1"/>
<line x1="422.5" y1="346.76" x2="679.5" y2="346.76" stroke="#c4d6c6" stroke-width="1"/>
<line x1="422.5" y1="371.04" x2="679.5" y2="371.04" stroke="#c4d6c6" stroke-width="1"/>
<line x1="422.5" y1="395.32" x2="679.5" y2="395.32" stroke="#c4d6c6" stroke-width="1"/>
<line x1="422.5" y1="419.6" x2="679.5" y2="419.6" stroke="#c4d6c6" stroke-width="1"/>
<line x1="422.5" y1="443.88" x2="679.5" y2="443.88" stroke="#c4d6c6" stroke-width="1"/>
<line x1="473.9" y1="444.0" x2="473.9" y2="441.5" stroke="#333" stroke-width="1"/>
<line x1="473.9" y1="347.0" x2="473.9" y2="349.5" stroke="#333" stroke-width="1"/>
<line x1="525.3" y1="444.0" x2="525.3" y2="441.5" stroke="#333" stroke-width="1"/>
<line x1="525.3" y1="347.0" x2="525.3" y2="349.5" stroke="#333" stroke-width="1"/>
<line x1="576.7" y1="444.0" x2="576.7" y2="441.5" stroke="#333" stroke-width="1"/>
<line x1="576.7" y1="347.0" x2="576.7" y2="349.5" stroke="#333" stroke-width="1"/>
<line x1="628.1" y1="444.0" x2="628.1" y2="441.5" stroke="#333" stroke-width="1"/>
<line x1="628.1" y1="347.0" x2="628.1" y2="349.5" stroke="#333" stroke-width="1"/>
<line x1="422.5" y1="346.76" x2="425.1" y2="346.76" stroke="#333" stroke-width="1"/>
<line x1="679.5" y1="346.76" x2="676.9" y2="346.76" stroke="#333" stroke-width="1"/>
<line x1="422.5" y1="371.04" x2="425.1" y2="371.04" stroke="#333" stroke-width="1"/>
<line x1="679.5" y1="371.04" x2="676.9" y2="371.04" stroke="#333" stroke-width="1"/>
<line x1="422.5" y1="395.32" x2="425.1" y2="395.32" stroke="#333" stroke-width="1"/>
<line x1="679.5" y1="395.32" x2="676.9" y2="395.32" stroke="#333" stroke-width="1"/>
<line x1="422.5" y1="419.6" x2="425.1" y2="419.6" stroke="#333" stroke-width="1"/>
<line x1="679.5" y1="419.6" x2="676.9" y2="419.6" stroke="#333" stroke-width="1"/>
<line x1="422.5" y1="443.88" x2="425.1" y2="443.88" stroke="#333" stroke-width="1"/>
<line x1="679.5" y1="443.88" x2="676.9" y2="443.88" stroke="#333" stroke-width="1"/>
<path clip-path="url(#cr0)" d="M422.5 419.6 L422.5 420.22 L422.51 421.87 L422.54 424.2 L422.58 426.87 L422.65 429.54 L422.74 431.87 L422.86 433.53 L423.01 434.17 L423.14 434.03 L423.29 433.63 L423.45 433.01 L423.62 432.21 L423.8 431.28 L423.98 430.25 L424.14 429.18 L424.3 428.1 L424.61 425.13 L424.87 421.31 L425.11 416.91 L425.33 412.19 L425.55 407.41 L425.79 402.83 L426.05 398.71 L426.36 395.32 L426.54 393.61 L426.74 391.85 L426.94 390.12 L427.14 388.51 L427.35 387.11 L427.58 386 L427.81 385.27 L428.05 385 L428.29 385.28 L428.53 386.06 L428.77 387.21 L429.02 388.6 L429.29 390.11 L429.58 391.62 L429.88 392.99 L430.21 394.11 L430.48 394.87 L430.78 395.68 L431.08 396.5 L431.4 397.27 L431.72 397.95 L432.03 398.49 L432.34 398.84 L432.63 398.96 L432.92 398.77 L433.21 398.26 L433.48 397.52 L433.75 396.62 L434.02 395.64 L434.29 394.64 L434.56 393.7 L434.84 392.89 L435.08 392.2 L435.29 391.45 L435.51 390.68 L435.72 389.94 L435.96 389.26 L436.22 388.69 L436.53 388.26 L436.89 388.04 L437.3 388.06 L437.75 388.32 L438.24 388.74 L438.76 389.25 L439.29 389.77 L439.83 390.24 L440.37 390.57 L440.9 390.71 L441.44 390.61 L441.99 390.32 L442.54 389.91 L443.1 389.43 L443.66 388.94 L444.23 388.48 L444.8 388.12 L445.37 387.91 L445.9 387.87 L446.44 387.91 L446.98 388.02 L447.52 388.17 L448.07 388.34 L448.62 388.49 L449.18 388.6 L449.74 388.64 L450.35 388.61 L450.96 388.54 L451.58 388.42 L452.2 388.29 L452.83 388.14 L453.49 388.01 L454.17 387.88 L454.88 387.79 L455.86 387.72 L456.88 387.66 L457.96 387.63 L459.06 387.6 L460.19 387.59 L461.33 387.58 L462.48 387.57 L463.62 387.55 L465.01 387.53 L466.61 387.5 L468.32 387.48 L469.99 387.47 L471.51 387.45 L472.76 387.44 L473.59 387.43 L473.9 387.43 L473.91 388.03 L473.92 389.66 L473.96 392.08 L474.01 395.05 L474.08 398.31 L474.16 401.63 L474.28 404.76 L474.41 407.46 L474.56 409.89 L474.73 412.61 L474.92 415.43 L475.13 418.17 L475.35 420.63 L475.59 422.63 L475.84 423.97 L476.11 424.46 L476.52 422.92 L476.96 418.85 L477.43 413.09 L477.93 406.49 L478.47 399.88 L479.06 394.1 L479.69 389.99 L480.38 388.4 L480.87 389.06 L481.37 390.85 L481.89 393.4 L482.44 396.35 L483.01 399.31 L483.61 401.91 L484.24 403.78 L484.9 404.55 L485.4 404.28 L485.91 403.49 L486.43 402.32 L486.97 400.97 L487.53 399.59 L488.11 398.35 L488.7 397.44 L489.32 397.02 L489.84 397.09 L490.37 397.44 L490.92 397.97 L491.48 398.61 L492.05 399.28 L492.63 399.88 L493.21 400.32 L493.79 400.54 L494.34 400.51 L494.9 400.31 L495.46 400 L496.03 399.63 L496.6 399.24 L497.17 398.88 L497.74 398.61 L498.31 398.48 L498.86 398.48 L499.39 398.57 L499.93 398.73 L500.47 398.92 L501.01 399.13 L501.56 399.32 L502.12 399.48 L502.68 399.57 L503.3 399.6 L503.91 399.57 L504.54 399.52 L505.17 399.45 L505.81 399.37 L506.47 399.29 L507.14 399.23 L507.82 399.2 L508.66 399.21 L509.51 399.24 L510.38 399.29 L511.27 399.35 L512.17 399.42 L513.1 399.48 L514.05 399.53 L515.02 399.57 L516.36 399.59 L517.94 399.6 L519.64 399.6 L521.33 399.6 L522.87 399.59 L524.13 399.58 L524.99 399.57 L525.3 399.57 L525.31 400.17 L525.33 401.79 L525.36 404.21 L525.4 407.17 L525.46 410.43 L525.53 413.76 L525.61 416.89 L525.71 419.6 L525.81 422.07 L525.91 424.84 L526.02 427.72 L526.14 430.52 L526.28 433.04 L526.44 435.08 L526.63 436.46 L526.84 436.96 L527.2 435.42 L527.6 431.34 L528.05 425.56 L528.54 418.93 L529.08 412.3 L529.66 406.5 L530.29 402.38 L530.95 400.78 L531.43 401.46 L531.92 403.29 L532.42 405.9 L532.95 408.91 L533.51 411.94 L534.09 414.6 L534.71 416.51 L535.37 417.29 L535.87 417.03 L536.39 416.21 L536.93 415.02 L537.48 413.64 L538.05 412.23 L538.63 410.98 L539.23 410.06 L539.85 409.65 L540.35 409.73 L540.86 410.09 L541.38 410.64 L541.91 411.3 L542.45 411.98 L543 412.6 L543.55 413.06 L544.11 413.29 L544.63 413.27 L545.16 413.09 L545.69 412.8 L546.23 412.45 L546.77 412.08 L547.32 411.74 L547.87 411.48 L548.43 411.34 L548.99 411.34 L549.55 411.42 L550.12 411.56 L550.69 411.74 L551.27 411.93 L551.86 412.11 L552.45 412.24 L553.06 412.32 L553.71 412.32 L554.35 412.28 L554.99 412.2 L555.64 412.09 L556.33 411.98 L557.06 411.87 L557.85 411.78 L558.71 411.71 L560.72 411.64 L563.34 411.61 L566.29 411.61 L569.32 411.62 L572.14 411.65 L574.49 411.68 L576.1 411.7 L576.7 411.71 L576.71 411.02 L576.73 409.15 L576.77 406.38 L576.82 403.01 L576.89 399.32 L576.98 395.61 L577.09 392.15 L577.21 389.25 L577.33 387 L577.45 384.54 L577.59 382.01 L577.73 379.58 L577.9 377.42 L578.08 375.67 L578.28 374.5 L578.5 374.08 L578.89 375.64 L579.34 379.78 L579.84 385.64 L580.38 392.36 L580.96 399.08 L581.57 404.96 L582.21 409.13 L582.87 410.74 L583.31 410.07 L583.75 408.24 L584.19 405.65 L584.65 402.65 L585.14 399.64 L585.68 396.98 L586.29 395.05 L586.98 394.23 L587.53 394.44 L588.11 395.17 L588.73 396.26 L589.37 397.54 L590.04 398.86 L590.72 400.05 L591.42 400.94 L592.12 401.39 L592.67 401.39 L593.23 401.18 L593.8 400.82 L594.38 400.37 L594.97 399.9 L595.56 399.47 L596.15 399.13 L596.75 398.96 L597.31 398.96 L597.87 399.06 L598.43 399.24 L599 399.45 L599.57 399.69 L600.16 399.91 L600.76 400.08 L601.37 400.18 L602.07 400.2 L602.76 400.16 L603.46 400.08 L604.17 399.98 L604.92 399.86 L605.72 399.74 L606.59 399.64 L607.54 399.57 L609.81 399.5 L612.8 399.47 L616.17 399.46 L619.64 399.48 L622.87 399.51 L625.57 399.54 L627.41 399.56 L628.1 399.57 L628.11 398.88 L628.13 397.01 L628.17 394.25 L628.22 390.88 L628.29 387.2 L628.38 383.48 L628.49 380.02 L628.61 377.11 L628.73 374.83 L628.85 372.33 L628.99 369.76 L629.13 367.3 L629.3 365.09 L629.48 363.31 L629.68 362.13 L629.9 361.69 L630.29 363.27 L630.74 367.46 L631.24 373.37 L631.78 380.16 L632.36 386.95 L632.97 392.88 L633.61 397.1 L634.27 398.72 L634.71 398.04 L635.15 396.18 L635.59 393.54 L636.05 390.5 L636.55 387.44 L637.09 384.74 L637.7 382.79 L638.38 381.97 L638.93 382.2 L639.51 382.97 L640.13 384.12 L640.77 385.47 L641.44 386.86 L642.12 388.1 L642.82 389.04 L643.52 389.49 L644.07 389.48 L644.63 389.24 L645.2 388.84 L645.78 388.35 L646.37 387.83 L646.96 387.36 L647.55 387 L648.15 386.82 L648.71 386.83 L649.27 386.96 L649.83 387.18 L650.4 387.44 L650.97 387.72 L651.56 387.98 L652.16 388.17 L652.77 388.28 L653.47 388.29 L654.16 388.22 L654.85 388.09 L655.57 387.92 L656.32 387.74 L657.12 387.57 L657.99 387.42 L658.94 387.31 L661.21 387.2 L664.19 387.15 L667.57 387.14 L671.03 387.17 L674.27 387.21 L676.97 387.25 L678.81 387.29 L679.5 387.31" fill="none" stroke="#ff00ff" stroke-width="2.5" stroke-linejoin="round"/>
<rect x="422.5" y="347.0" width="257" height="97" fill="none" stroke="#262626" stroke-opacity="0.58" stroke-width="1"/>
<rect x="588.5" y="423.5" width="83" height="15" fill="#fff" stroke="#5e5e5e" stroke-width="1"/>
<line x1="591.6" y1="431" x2="621.0" y2="431" stroke="#ff00ff" stroke-width="2.6"/>
<text transform="translate(623.7,434.9) scale(1,1.1)" font-family="Liberation Serif" font-weight="bold" font-size="10.3" text-anchor="start" fill="#000" >SP-ISE1.4</text>
<text transform="translate(418.2,351.06) scale(1,0.94)" font-family="Liberation Sans" font-weight="bold" font-size="10" text-anchor="end" fill="#262626" >0.6</text>
<text transform="translate(418.2,375.34) scale(1,0.94)" font-family="Liberation Sans" font-weight="bold" font-size="10" text-anchor="end" fill="#262626" >0.4</text>
<text transform="translate(418.2,399.62) scale(1,0.94)" font-family="Liberation Sans" font-weight="bold" font-size="10" text-anchor="end" fill="#262626" >0.2</text>
<text transform="translate(418.2,423.9) scale(1,0.94)" font-family="Liberation Sans" font-weight="bold" font-size="10" text-anchor="end" fill="#262626" >0</text>
<text transform="translate(418.2,448.18) scale(1,0.94)" font-family="Liberation Sans" font-weight="bold" font-size="10" text-anchor="end" fill="#262626" >-0.2</text>
<text transform="translate(422.5,458.6) scale(1,0.94)" font-family="Liberation Sans" font-weight="bold" font-size="10" text-anchor="middle" fill="#262626" >0</text>
<text transform="translate(473.9,458.6) scale(1,0.94)" font-family="Liberation Sans" font-weight="bold" font-size="10" text-anchor="middle" fill="#262626" >10</text>
<text transform="translate(525.3,458.6) scale(1,0.94)" font-family="Liberation Sans" font-weight="bold" font-size="10" text-anchor="middle" fill="#262626" >20</text>
<text transform="translate(576.7,458.6) scale(1,0.94)" font-family="Liberation Sans" font-weight="bold" font-size="10" text-anchor="middle" fill="#262626" >30</text>
<text transform="translate(628.1,458.6) scale(1,0.94)" font-family="Liberation Sans" font-weight="bold" font-size="10" text-anchor="middle" fill="#262626" >40</text>
<text transform="translate(679.5,458.6) scale(1,0.94)" font-family="Liberation Sans" font-weight="bold" font-size="10" text-anchor="middle" fill="#262626" >50</text>
<text transform="translate(396.2,395.5) rotate(-90)" font-family="Liberation Sans" font-weight="bold" font-size="10" text-anchor="middle" fill="#262626">Magnitude</text>
<rect x="422.5" y="481.6" width="257" height="98.1" fill="#d6e7d8"/>
<line x1="473.9" y1="481.6" x2="473.9" y2="579.7" stroke="#c4d6c6" stroke-width="1"/>
<line x1="525.3" y1="481.6" x2="525.3" y2="579.7" stroke="#c4d6c6" stroke-width="1"/>
<line x1="576.7" y1="481.6" x2="576.7" y2="579.7" stroke="#c4d6c6" stroke-width="1"/>
<line x1="628.1" y1="481.6" x2="628.1" y2="579.7" stroke="#c4d6c6" stroke-width="1"/>
<line x1="422.5" y1="481.7" x2="679.5" y2="481.7" stroke="#c4d6c6" stroke-width="1"/>
<line x1="422.5" y1="514.4" x2="679.5" y2="514.4" stroke="#c4d6c6" stroke-width="1"/>
<line x1="422.5" y1="547.1" x2="679.5" y2="547.1" stroke="#c4d6c6" stroke-width="1"/>
<line x1="422.5" y1="579.8" x2="679.5" y2="579.8" stroke="#c4d6c6" stroke-width="1"/>
<line x1="473.9" y1="579.7" x2="473.9" y2="577.2" stroke="#333" stroke-width="1"/>
<line x1="473.9" y1="481.6" x2="473.9" y2="484.1" stroke="#333" stroke-width="1"/>
<line x1="525.3" y1="579.7" x2="525.3" y2="577.2" stroke="#333" stroke-width="1"/>
<line x1="525.3" y1="481.6" x2="525.3" y2="484.1" stroke="#333" stroke-width="1"/>
<line x1="576.7" y1="579.7" x2="576.7" y2="577.2" stroke="#333" stroke-width="1"/>
<line x1="576.7" y1="481.6" x2="576.7" y2="484.1" stroke="#333" stroke-width="1"/>
<line x1="628.1" y1="579.7" x2="628.1" y2="577.2" stroke="#333" stroke-width="1"/>
<line x1="628.1" y1="481.6" x2="628.1" y2="484.1" stroke="#333" stroke-width="1"/>
<line x1="422.5" y1="481.7" x2="425.1" y2="481.7" stroke="#333" stroke-width="1"/>
<line x1="679.5" y1="481.7" x2="676.9" y2="481.7" stroke="#333" stroke-width="1"/>
<line x1="422.5" y1="514.4" x2="425.1" y2="514.4" stroke="#333" stroke-width="1"/>
<line x1="679.5" y1="514.4" x2="676.9" y2="514.4" stroke="#333" stroke-width="1"/>
<line x1="422.5" y1="547.1" x2="425.1" y2="547.1" stroke="#333" stroke-width="1"/>
<line x1="679.5" y1="547.1" x2="676.9" y2="547.1" stroke="#333" stroke-width="1"/>
<line x1="422.5" y1="579.8" x2="425.1" y2="579.8" stroke="#333" stroke-width="1"/>
<line x1="679.5" y1="579.8" x2="676.9" y2="579.8" stroke="#333" stroke-width="1"/>
<path clip-path="url(#cr1)" d="M422.5 547.1 L422.65 575.22 L422.68 574.32 L422.76 571.88 L422.87 568.3 L423.02 563.97 L423.19 559.28 L423.38 554.65 L423.58 550.46 L423.78 547.1 L423.91 545.26 L424.03 543.48 L424.15 541.77 L424.28 540.15 L424.43 538.61 L424.6 537.18 L424.81 535.87 L425.07 534.67 L425.24 533.98 L425.42 533.27 L425.6 532.58 L425.8 531.94 L426.01 531.38 L426.24 530.93 L426.49 530.62 L426.77 530.49 L427.12 530.65 L427.51 531.16 L427.93 531.89 L428.37 532.74 L428.83 533.6 L429.3 534.36 L429.76 534.9 L430.21 535.13 L430.6 535.04 L430.99 534.73 L431.37 534.27 L431.76 533.72 L432.17 533.14 L432.58 532.59 L433.03 532.12 L433.5 531.8 L433.98 531.61 L434.48 531.51 L434.99 531.46 L435.52 531.44 L436.08 531.45 L436.66 531.46 L437.27 531.45 L437.92 531.4 L439 531.29 L440.19 531.14 L441.46 530.98 L442.79 530.82 L444.16 530.65 L445.53 530.49 L446.88 530.35 L448.2 530.23 L449.47 530.13 L450.72 530.04 L451.96 529.97 L453.21 529.9 L454.47 529.84 L455.76 529.79 L457.1 529.75 L458.48 529.7 L460.47 529.66 L462.84 529.63 L465.39 529.6 L467.92 529.59 L470.24 529.58 L472.14 529.57 L473.43 529.57 L473.9 529.57 L474 573.26 L475.44 551.02 L475.51 550.19 L475.69 547.99 L475.97 544.88 L476.35 541.3 L476.81 537.71 L477.33 534.55 L477.91 532.28 L478.53 531.34 L478.93 531.55 L479.36 532.22 L479.82 533.21 L480.3 534.38 L480.8 535.57 L481.31 536.64 L481.84 537.43 L482.38 537.81 L482.8 537.79 L483.22 537.58 L483.66 537.22 L484.1 536.79 L484.55 536.34 L485.02 535.91 L485.49 535.58 L485.98 535.39 L486.48 535.35 L487 535.41 L487.52 535.54 L488.06 535.71 L488.61 535.9 L489.17 536.08 L489.75 536.22 L490.35 536.31 L491.08 536.34 L491.81 536.32 L492.54 536.27 L493.31 536.2 L494.12 536.12 L495 536.04 L495.96 535.96 L497.03 535.92 L500.01 535.86 L504.05 535.84 L508.68 535.84 L513.48 535.85 L517.98 535.87 L521.75 535.89 L524.34 535.91 L525.3 535.92 L525.4 586.34 L527 557.89 L527.06 557.05 L527.25 554.83 L527.55 551.68 L527.94 548.06 L528.4 544.43 L528.92 541.24 L529.49 538.95 L530.08 538.01 L530.44 538.21 L530.83 538.84 L531.23 539.78 L531.65 540.87 L532.09 541.99 L532.55 542.99 L533.03 543.73 L533.52 544.09 L533.93 544.07 L534.35 543.84 L534.78 543.48 L535.22 543.04 L535.68 542.57 L536.15 542.14 L536.63 541.8 L537.12 541.61 L537.65 541.57 L538.19 541.63 L538.75 541.77 L539.32 541.96 L539.91 542.17 L540.51 542.38 L541.12 542.55 L541.75 542.65 L542.49 542.71 L543.22 542.72 L543.96 542.71 L544.72 542.67 L545.53 542.63 L546.4 542.58 L547.36 542.54 L548.43 542.52 L551.41 542.52 L555.45 542.54 L560.08 542.57 L564.88 542.61 L569.38 542.65 L573.15 542.68 L575.74 542.71 L576.7 542.72 L576.8 499.16 L577.99 520.29 L578.02 520.6 L578.11 521.44 L578.24 522.69 L578.42 524.23 L578.62 525.93 L578.83 527.67 L579.05 529.32 L579.27 530.75 L579.47 532.14 L579.67 533.7 L579.88 535.33 L580.1 536.92 L580.35 538.36 L580.63 539.54 L580.95 540.35 L581.33 540.69 L581.68 540.48 L582.06 539.82 L582.48 538.86 L582.92 537.75 L583.37 536.61 L583.84 535.59 L584.33 534.83 L584.82 534.48 L585.19 534.5 L585.56 534.71 L585.95 535.04 L586.34 535.45 L586.73 535.88 L587.15 536.28 L587.57 536.59 L588.01 536.77 L588.45 536.81 L588.88 536.76 L589.31 536.65 L589.75 536.49 L590.24 536.31 L590.78 536.12 L591.4 535.97 L592.12 535.85 L595.4 535.66 L600.29 535.58 L606.16 535.58 L612.38 535.64 L618.31 535.72 L623.33 535.81 L626.8 535.89 L628.1 535.92 L628.2 492.49 L629.64 514.4 L629.67 514.82 L629.75 515.94 L629.87 517.59 L630.03 519.6 L630.22 521.77 L630.43 523.92 L630.67 525.89 L630.93 527.48 L631.11 528.5 L631.3 529.57 L631.5 530.65 L631.72 531.67 L631.95 532.57 L632.21 533.31 L632.5 533.81 L632.83 534.02 L633.21 533.81 L633.63 533.16 L634.09 532.23 L634.57 531.13 L635.08 530.02 L635.59 529.02 L636.11 528.28 L636.63 527.94 L637.02 527.97 L637.41 528.18 L637.8 528.52 L638.19 528.93 L638.6 529.37 L639.02 529.78 L639.46 530.1 L639.92 530.29 L640.42 530.35 L640.9 530.32 L641.38 530.21 L641.89 530.06 L642.44 529.88 L643.06 529.7 L643.75 529.55 L644.55 529.44 L647.83 529.29 L652.63 529.24 L658.33 529.26 L664.35 529.33 L670.08 529.43 L674.91 529.53 L678.25 529.61 L679.5 529.64" fill="none" stroke="#ff0000" stroke-width="2.5" stroke-linejoin="round"/>
<rect x="422.5" y="481.6" width="257" height="98.1" fill="none" stroke="#262626" stroke-opacity="0.58" stroke-width="1"/>
<rect x="579.5" y="558.5" width="92" height="15" fill="#fff" stroke="#5e5e5e" stroke-width="1"/>
<line x1="582.8" y1="566" x2="612.4" y2="566" stroke="#ff0000" stroke-width="2.6"/>
<text transform="translate(615.5,569.9) scale(1,1.1)" font-family="Liberation Serif" font-weight="bold" font-size="10.3" text-anchor="start" fill="#000" >LDR-ISE1.4</text>
<text transform="translate(418.2,486) scale(1,0.94)" font-family="Liberation Sans" font-weight="bold" font-size="10" text-anchor="end" fill="#262626" >1</text>
<text transform="translate(418.2,518.7) scale(1,0.94)" font-family="Liberation Sans" font-weight="bold" font-size="10" text-anchor="end" fill="#262626" >0.5</text>
<text transform="translate(418.2,551.4) scale(1,0.94)" font-family="Liberation Sans" font-weight="bold" font-size="10" text-anchor="end" fill="#262626" >0</text>
<text transform="translate(418.2,584.1) scale(1,0.94)" font-family="Liberation Sans" font-weight="bold" font-size="10" text-anchor="end" fill="#262626" >-0.5</text>
<text transform="translate(422.5,594.3) scale(1,0.94)" font-family="Liberation Sans" font-weight="bold" font-size="10" text-anchor="middle" fill="#262626" >0</text>
<text transform="translate(473.9,594.3) scale(1,0.94)" font-family="Liberation Sans" font-weight="bold" font-size="10" text-anchor="middle" fill="#262626" >10</text>
<text transform="translate(525.3,594.3) scale(1,0.94)" font-family="Liberation Sans" font-weight="bold" font-size="10" text-anchor="middle" fill="#262626" >20</text>
<text transform="translate(576.7,594.3) scale(1,0.94)" font-family="Liberation Sans" font-weight="bold" font-size="10" text-anchor="middle" fill="#262626" >30</text>
<text transform="translate(628.1,594.3) scale(1,0.94)" font-family="Liberation Sans" font-weight="bold" font-size="10" text-anchor="middle" fill="#262626" >40</text>
<text transform="translate(679.5,594.3) scale(1,0.94)" font-family="Liberation Sans" font-weight="bold" font-size="10" text-anchor="middle" fill="#262626" >50</text>
<text transform="translate(396.2,530.65) rotate(-90)" font-family="Liberation Sans" font-weight="bold" font-size="10" text-anchor="middle" fill="#262626">Magnitude</text>
<rect x="422.5" y="617.3" width="257" height="97.1" fill="#d6e7d8"/>
<line x1="473.9" y1="617.3" x2="473.9" y2="714.4" stroke="#c4d6c6" stroke-width="1"/>
<line x1="525.3" y1="617.3" x2="525.3" y2="714.4" stroke="#c4d6c6" stroke-width="1"/>
<line x1="576.7" y1="617.3" x2="576.7" y2="714.4" stroke="#c4d6c6" stroke-width="1"/>
<line x1="628.1" y1="617.3" x2="628.1" y2="714.4" stroke="#c4d6c6" stroke-width="1"/>
<line x1="422.5" y1="617.26" x2="679.5" y2="617.26" stroke="#c4d6c6" stroke-width="1"/>
<line x1="422.5" y1="641.54" x2="679.5" y2="641.54" stroke="#c4d6c6" stroke-width="1"/>
<line x1="422.5" y1="665.82" x2="679.5" y2="665.82" stroke="#c4d6c6" stroke-width="1"/>
<line x1="422.5" y1="690.1" x2="679.5" y2="690.1" stroke="#c4d6c6" stroke-width="1"/>
<line x1="422.5" y1="714.38" x2="679.5" y2="714.38" stroke="#c4d6c6" stroke-width="1"/>
<line x1="473.9" y1="714.4" x2="473.9" y2="711.9" stroke="#333" stroke-width="1"/>
<line x1="473.9" y1="617.3" x2="473.9" y2="619.8" stroke="#333" stroke-width="1"/>
<line x1="525.3" y1="714.4" x2="525.3" y2="711.9" stroke="#333" stroke-width="1"/>
<line x1="525.3" y1="617.3" x2="525.3" y2="619.8" stroke="#333" stroke-width="1"/>
<line x1="576.7" y1="714.4" x2="576.7" y2="711.9" stroke="#333" stroke-width="1"/>
<line x1="576.7" y1="617.3" x2="576.7" y2="619.8" stroke="#333" stroke-width="1"/>
<line x1="628.1" y1="714.4" x2="628.1" y2="711.9" stroke="#333" stroke-width="1"/>
<line x1="628.1" y1="617.3" x2="628.1" y2="619.8" stroke="#333" stroke-width="1"/>
<line x1="422.5" y1="617.26" x2="425.1" y2="617.26" stroke="#333" stroke-width="1"/>
<line x1="679.5" y1="617.26" x2="676.9" y2="617.26" stroke="#333" stroke-width="1"/>
<line x1="422.5" y1="641.54" x2="425.1" y2="641.54" stroke="#333" stroke-width="1"/>
<line x1="679.5" y1="641.54" x2="676.9" y2="641.54" stroke="#333" stroke-width="1"/>
<line x1="422.5" y1="665.82" x2="425.1" y2="665.82" stroke="#333" stroke-width="1"/>
<line x1="679.5" y1="665.82" x2="676.9" y2="665.82" stroke="#333" stroke-width="1"/>
<line x1="422.5" y1="690.1" x2="425.1" y2="690.1" stroke="#333" stroke-width="1"/>
<line x1="679.5" y1="690.1" x2="676.9" y2="690.1" stroke="#333" stroke-width="1"/>
<line x1="422.5" y1="714.38" x2="425.1" y2="714.38" stroke="#333" stroke-width="1"/>
<line x1="679.5" y1="714.38" x2="676.9" y2="714.38" stroke="#333" stroke-width="1"/>
<path clip-path="url(#cr2)" d="M422.5 690.1 L422.52 690.6 L422.59 691.92 L422.7 693.79 L422.83 695.93 L422.99 698.07 L423.16 699.93 L423.34 701.25 L423.53 701.75 L423.93 699.68 L424.39 694.21 L424.91 686.48 L425.48 677.6 L426.11 668.72 L426.79 660.96 L427.52 655.45 L428.31 653.32 L428.81 654 L429.33 655.88 L429.88 658.56 L430.45 661.64 L431.02 664.72 L431.61 667.42 L432.2 669.33 L432.78 670.07 L433.29 669.53 L433.78 668.08 L434.26 666.01 L434.76 663.62 L435.28 661.21 L435.83 659.08 L436.43 657.53 L437.1 656.84 L437.59 656.95 L438.11 657.44 L438.65 658.18 L439.21 659.05 L439.78 659.95 L440.35 660.74 L440.94 661.32 L441.52 661.57 L442.08 661.46 L442.64 661.1 L443.21 660.55 L443.79 659.91 L444.37 659.25 L444.96 658.65 L445.55 658.18 L446.14 657.93 L446.65 657.9 L447.14 657.98 L447.64 658.15 L448.15 658.37 L448.66 658.6 L449.18 658.81 L449.71 658.96 L450.26 659.02 L450.91 658.97 L451.58 658.83 L452.27 658.63 L452.97 658.39 L453.68 658.14 L454.41 657.9 L455.15 657.7 L455.91 657.56 L456.8 657.48 L457.72 657.44 L458.66 657.43 L459.61 657.45 L460.59 657.49 L461.58 657.52 L462.59 657.55 L463.62 657.56 L464.97 657.56 L466.57 657.56 L468.27 657.56 L469.95 657.56 L471.49 657.56 L472.74 657.56 L473.59 657.56 L473.9 657.56 L473.91 657.96 L473.94 659.05 L473.99 660.68 L474.06 662.71 L474.13 665 L474.22 667.39 L474.31 669.73 L474.41 671.89 L474.55 674.89 L474.69 678.5 L474.85 682.41 L475.02 686.31 L475.21 689.89 L475.43 692.83 L475.68 694.82 L475.96 695.56 L476.36 693.91 L476.81 689.54 L477.3 683.35 L477.84 676.25 L478.42 669.15 L479.03 662.94 L479.69 658.53 L480.38 656.84 L480.89 657.65 L481.42 659.87 L481.97 663.01 L482.54 666.62 L483.13 670.25 L483.76 673.44 L484.41 675.71 L485.11 676.62 L485.64 676.25 L486.19 675.16 L486.77 673.6 L487.35 671.79 L487.96 669.96 L488.57 668.34 L489.2 667.17 L489.83 666.67 L490.32 666.82 L490.81 667.32 L491.3 668.07 L491.8 668.94 L492.32 669.83 L492.84 670.64 L493.38 671.24 L493.95 671.53 L494.49 671.48 L495.05 671.21 L495.63 670.78 L496.21 670.27 L496.81 669.74 L497.4 669.26 L497.99 668.9 L498.57 668.73 L499.08 668.76 L499.59 668.91 L500.09 669.14 L500.6 669.42 L501.1 669.71 L501.62 669.99 L502.14 670.2 L502.68 670.31 L503.29 670.33 L503.9 670.26 L504.52 670.15 L505.15 669.99 L505.8 669.83 L506.46 669.67 L507.13 669.54 L507.82 669.46 L508.66 669.43 L509.51 669.43 L510.37 669.46 L511.26 669.51 L512.17 669.57 L513.1 669.63 L514.05 669.68 L515.02 669.7 L516.36 669.72 L517.94 669.73 L519.64 669.73 L521.33 669.72 L522.87 669.72 L524.13 669.71 L524.99 669.71 L525.3 669.7 L525.31 670.18 L525.34 671.49 L525.38 673.45 L525.44 675.87 L525.52 678.57 L525.6 681.35 L525.7 684.05 L525.81 686.46 L525.95 689.26 L526.09 692.53 L526.24 696 L526.42 699.43 L526.61 702.55 L526.83 705.1 L527.08 706.82 L527.36 707.46 L527.79 705.82 L528.28 701.49 L528.83 695.36 L529.42 688.33 L530.04 681.29 L530.7 675.14 L531.39 670.78 L532.08 669.1 L532.59 669.9 L533.11 672.08 L533.63 675.16 L534.18 678.72 L534.74 682.28 L535.33 685.4 L535.95 687.63 L536.61 688.52 L537.11 688.15 L537.62 687.09 L538.13 685.56 L538.67 683.78 L539.23 681.98 L539.81 680.39 L540.43 679.21 L541.08 678.69 L541.62 678.8 L542.19 679.27 L542.77 679.98 L543.37 680.82 L543.99 681.68 L544.61 682.46 L545.24 683.03 L545.86 683.3 L546.42 683.25 L546.99 682.98 L547.56 682.58 L548.14 682.09 L548.72 681.59 L549.31 681.14 L549.9 680.8 L550.49 680.63 L551.05 680.65 L551.61 680.79 L552.17 681.01 L552.74 681.29 L553.31 681.59 L553.89 681.86 L554.49 682.08 L555.11 682.21 L555.82 682.25 L556.52 682.22 L557.23 682.14 L557.96 682.03 L558.72 681.9 L559.52 681.78 L560.37 681.67 L561.28 681.6 L563.08 681.56 L565.37 681.55 L567.91 681.56 L570.48 681.6 L572.87 681.64 L574.85 681.68 L576.2 681.71 L576.7 681.72 L576.71 681.28 L576.73 680.04 L576.77 678.2 L576.83 675.92 L576.9 673.37 L576.99 670.73 L577.09 668.15 L577.21 665.82 L577.38 662.92 L577.56 659.48 L577.77 655.81 L578.01 652.17 L578.26 648.85 L578.53 646.12 L578.81 644.28 L579.12 643.6 L579.54 645.26 L579.98 649.65 L580.46 655.86 L580.97 662.98 L581.51 670.11 L582.09 676.33 L582.72 680.75 L583.38 682.45 L583.89 681.62 L584.42 679.39 L584.96 676.22 L585.53 672.58 L586.12 668.92 L586.73 665.72 L587.36 663.44 L588.01 662.54 L588.5 662.96 L589 664.12 L589.51 665.79 L590.03 667.72 L590.57 669.68 L591.13 671.41 L591.74 672.67 L592.38 673.23 L592.9 673.09 L593.44 672.59 L594.01 671.83 L594.59 670.93 L595.18 670 L595.79 669.17 L596.39 668.55 L597 668.25 L597.53 668.28 L598.06 668.51 L598.6 668.88 L599.14 669.32 L599.69 669.78 L600.25 670.2 L600.81 670.52 L601.37 670.68 L601.93 670.67 L602.48 670.54 L603.04 670.34 L603.6 670.09 L604.18 669.82 L604.77 669.57 L605.37 669.35 L606 669.22 L606.75 669.15 L607.51 669.14 L608.28 669.16 L609.08 669.22 L609.91 669.29 L610.78 669.37 L611.7 669.43 L612.68 669.46 L614.51 669.48 L616.81 669.49 L619.35 669.49 L621.92 669.49 L624.3 669.48 L626.26 669.47 L627.6 669.47 L628.1 669.46 L628.11 669.02 L628.13 667.8 L628.18 665.97 L628.24 663.71 L628.31 661.18 L628.4 658.56 L628.5 656 L628.61 653.68 L628.77 650.77 L628.94 647.32 L629.14 643.63 L629.35 639.96 L629.59 636.62 L629.84 633.88 L630.12 632.03 L630.41 631.34 L630.83 633.02 L631.29 637.45 L631.78 643.71 L632.31 650.9 L632.87 658.09 L633.47 664.38 L634.1 668.84 L634.78 670.55 L635.29 669.73 L635.81 667.52 L636.34 664.38 L636.9 660.76 L637.48 657.13 L638.09 653.95 L638.73 651.67 L639.41 650.77 L639.93 651.15 L640.46 652.26 L641.01 653.86 L641.57 655.71 L642.15 657.58 L642.75 659.23 L643.38 660.44 L644.03 660.96 L644.57 660.82 L645.11 660.3 L645.68 659.52 L646.25 658.59 L646.84 657.65 L647.44 656.8 L648.04 656.17 L648.66 655.87 L649.21 655.91 L649.77 656.16 L650.35 656.56 L650.93 657.05 L651.51 657.55 L652.1 658.01 L652.69 658.36 L653.29 658.54 L653.85 658.53 L654.41 658.4 L654.97 658.2 L655.54 657.94 L656.11 657.67 L656.7 657.41 L657.29 657.2 L657.91 657.08 L658.62 657.03 L659.32 657.05 L660.03 657.11 L660.76 657.21 L661.52 657.32 L662.32 657.42 L663.17 657.51 L664.08 657.56 L665.89 657.6 L668.17 657.61 L670.71 657.59 L673.28 657.56 L675.67 657.52 L677.65 657.48 L679 657.45 L679.5 657.44" fill="none" stroke="#0000ff" stroke-width="2.5" stroke-linejoin="round"/>
<rect x="422.5" y="617.3" width="257" height="97.1" fill="none" stroke="#262626" stroke-opacity="0.58" stroke-width="1"/>
<rect x="582.5" y="693.5" width="89" height="15" fill="#fff" stroke="#5e5e5e" stroke-width="1"/>
<line x1="585.9" y1="701" x2="615.5" y2="701" stroke="#0000ff" stroke-width="2.6"/>
<text transform="translate(618,704.9) scale(1,1.1)" font-family="Liberation Serif" font-weight="bold" font-size="10.3" text-anchor="start" fill="#000" >SP-ITSE1.4</text>
<text transform="translate(418.2,621.56) scale(1,0.94)" font-family="Liberation Sans" font-weight="bold" font-size="10" text-anchor="end" fill="#262626" >0.6</text>
<text transform="translate(418.2,645.84) scale(1,0.94)" font-family="Liberation Sans" font-weight="bold" font-size="10" text-anchor="end" fill="#262626" >0.4</text>
<text transform="translate(418.2,670.12) scale(1,0.94)" font-family="Liberation Sans" font-weight="bold" font-size="10" text-anchor="end" fill="#262626" >0.2</text>
<text transform="translate(418.2,694.4) scale(1,0.94)" font-family="Liberation Sans" font-weight="bold" font-size="10" text-anchor="end" fill="#262626" >0</text>
<text transform="translate(418.2,718.68) scale(1,0.94)" font-family="Liberation Sans" font-weight="bold" font-size="10" text-anchor="end" fill="#262626" >-0.2</text>
<text transform="translate(422.5,729) scale(1,0.94)" font-family="Liberation Sans" font-weight="bold" font-size="10" text-anchor="middle" fill="#262626" >0</text>
<text transform="translate(473.9,729) scale(1,0.94)" font-family="Liberation Sans" font-weight="bold" font-size="10" text-anchor="middle" fill="#262626" >10</text>
<text transform="translate(525.3,729) scale(1,0.94)" font-family="Liberation Sans" font-weight="bold" font-size="10" text-anchor="middle" fill="#262626" >20</text>
<text transform="translate(576.7,729) scale(1,0.94)" font-family="Liberation Sans" font-weight="bold" font-size="10" text-anchor="middle" fill="#262626" >30</text>
<text transform="translate(628.1,729) scale(1,0.94)" font-family="Liberation Sans" font-weight="bold" font-size="10" text-anchor="middle" fill="#262626" >40</text>
<text transform="translate(679.5,729) scale(1,0.94)" font-family="Liberation Sans" font-weight="bold" font-size="10" text-anchor="middle" fill="#262626" >50</text>
<text transform="translate(396.2,665.85) rotate(-90)" font-family="Liberation Sans" font-weight="bold" font-size="10" text-anchor="middle" fill="#262626">Magnitude</text>
<text transform="translate(551,742.5) scale(1,0.95)" font-family="Liberation Sans" font-weight="bold" font-size="10" text-anchor="middle" fill="#262626" >Time (seconds)</text>
<text x="70.3" y="771.6" font-family="Liberation Sans" font-weight="bold" font-size="13" text-anchor="start" fill="#000" textLength="16.6" lengthAdjust="spacingAndGlyphs">(b)</text>
<text x="92.8" y="771.6" font-family="Liberation Serif" font-weight="normal" font-size="13" text-anchor="start" fill="#000" textLength="170" lengthAdjust="spacingAndGlyphs">Frequency response for case-1</text>
<text x="440" y="771.8" font-family="Liberation Sans" font-weight="bold" font-size="13" text-anchor="start" fill="#000" textLength="15.6" lengthAdjust="spacingAndGlyphs">(c)</text>
<text x="461.6" y="771.8" font-family="Liberation Serif" font-weight="normal" font-size="13" text-anchor="start" fill="#000" textLength="170.5" lengthAdjust="spacingAndGlyphs">Controller effort for for case-1</text>
</svg>
</body></html>
